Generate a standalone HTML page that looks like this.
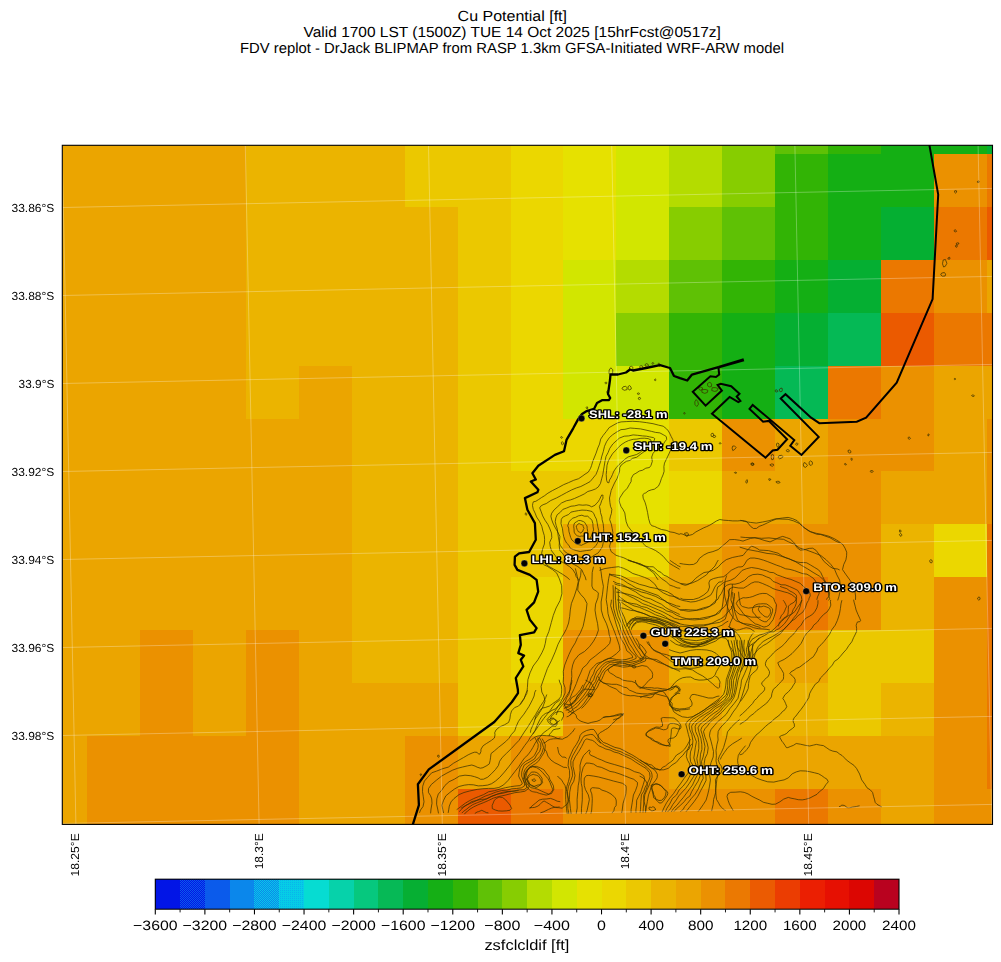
<!DOCTYPE html>
<html><head><meta charset="utf-8"><title>Cu Potential</title>
<style>
html,body{margin:0;padding:0;background:#fff;}
body{width:1001px;height:962px;overflow:hidden;font-family:"Liberation Sans",sans-serif;}
svg{display:block;}
text{font-family:"Liberation Sans",sans-serif;fill:#000;text-rendering:geometricPrecision;}
.t{font-size:14.7px;}
.yl{font-size:11.7px;}
.xl{font-size:11.7px;}
.cb{font-size:13.6px;}
.pl{font-size:11.0px;font-weight:bold;fill:#fff;stroke:#000;stroke-width:2.5px;paint-order:stroke fill;stroke-linejoin:round;}
.coast{fill:none;stroke:#000;stroke-width:2.3;stroke-linejoin:round;stroke-linecap:butt;}
.coast2{fill:none;stroke:#000;stroke-width:2.0;stroke-linejoin:miter;stroke-linecap:butt;}
.ct{fill:none;stroke:#3a3000;stroke-width:0.85;stroke-opacity:0.88;stroke-linejoin:round;}
.gl{fill:none;stroke:#fff;stroke-width:0.8;stroke-opacity:0.36;}
</style></head><body>
<svg width="1001" height="962" viewBox="0 0 1001 962">
<rect width="1001" height="962" fill="#fff"/>

<g opacity="0.996"><text class="t" x="457.6" y="20.9" textLength="109.4" lengthAdjust="spacingAndGlyphs" >Cu Potential [ft]</text>
<text class="t" x="303.6" y="36.8" textLength="417.3" lengthAdjust="spacingAndGlyphs" >Valid 1700 LST (1500Z) TUE 14 Oct 2025 [15hrFcst@0517z]</text>
<text class="t" x="240.0" y="52.7" textLength="544.0" lengthAdjust="spacingAndGlyphs" >FDV replot - DrJack BLIPMAP from RASP 1.3km GFSA-Initiated WRF-ARW model</text></g>
<defs><clipPath id="mc"><rect x="62.3" y="145.3" width="930.2" height="679.0999999999999"/></clipPath></defs>
<g clip-path="url(#mc)">
<g shape-rendering="crispEdges"><rect x="62.00" y="145.00" width="184.00" height="9.00" fill="#EBA500"/>
<rect x="246.00" y="145.00" width="159.00" height="9.00" fill="#EBB400"/>
<rect x="405.00" y="145.00" width="106.00" height="9.00" fill="#EBC800"/>
<rect x="511.00" y="145.00" width="52.00" height="9.00" fill="#EBD700"/>
<rect x="563.00" y="145.00" width="53.00" height="9.00" fill="#E6E100"/>
<rect x="616.00" y="145.00" width="53.00" height="9.00" fill="#D2E600"/>
<rect x="669.00" y="145.00" width="53.00" height="9.00" fill="#B4DC00"/>
<rect x="722.00" y="145.00" width="53.00" height="9.00" fill="#87CD00"/>
<rect x="775.00" y="145.00" width="53.00" height="9.00" fill="#5FC105"/>
<rect x="828.00" y="145.00" width="53.00" height="9.00" fill="#32B405"/>
<rect x="881.00" y="145.00" width="106.00" height="9.00" fill="#14AF14"/>
<rect x="987.00" y="145.00" width="6.00" height="9.00" fill="#05AF32"/>
<rect x="62.00" y="154.00" width="184.00" height="53.00" fill="#EBA500"/>
<rect x="246.00" y="154.00" width="159.00" height="53.00" fill="#EBB400"/>
<rect x="405.00" y="154.00" width="106.00" height="53.00" fill="#EBC800"/>
<rect x="511.00" y="154.00" width="52.00" height="53.00" fill="#EBD700"/>
<rect x="563.00" y="154.00" width="53.00" height="53.00" fill="#E6E100"/>
<rect x="616.00" y="154.00" width="53.00" height="53.00" fill="#D2E600"/>
<rect x="669.00" y="154.00" width="53.00" height="53.00" fill="#B4DC00"/>
<rect x="722.00" y="154.00" width="53.00" height="53.00" fill="#87CD00"/>
<rect x="775.00" y="154.00" width="53.00" height="53.00" fill="#32B405"/>
<rect x="828.00" y="154.00" width="106.00" height="53.00" fill="#14AF14"/>
<rect x="934.00" y="154.00" width="53.00" height="53.00" fill="#EB9100"/>
<rect x="987.00" y="154.00" width="6.00" height="53.00" fill="#EB7800"/>
<rect x="62.00" y="207.00" width="184.00" height="53.00" fill="#EBA500"/>
<rect x="246.00" y="207.00" width="212.00" height="53.00" fill="#EBB400"/>
<rect x="458.00" y="207.00" width="53.00" height="53.00" fill="#EBC800"/>
<rect x="511.00" y="207.00" width="52.00" height="53.00" fill="#EBD700"/>
<rect x="563.00" y="207.00" width="53.00" height="53.00" fill="#E6E100"/>
<rect x="616.00" y="207.00" width="53.00" height="53.00" fill="#D2E600"/>
<rect x="669.00" y="207.00" width="53.00" height="53.00" fill="#87CD00"/>
<rect x="722.00" y="207.00" width="53.00" height="53.00" fill="#5FC105"/>
<rect x="775.00" y="207.00" width="53.00" height="53.00" fill="#32B405"/>
<rect x="828.00" y="207.00" width="53.00" height="53.00" fill="#14AF14"/>
<rect x="881.00" y="207.00" width="53.00" height="53.00" fill="#05AF32"/>
<rect x="934.00" y="207.00" width="53.00" height="53.00" fill="#EB7800"/>
<rect x="987.00" y="207.00" width="6.00" height="53.00" fill="#EB5A00"/>
<rect x="62.00" y="260.00" width="184.00" height="53.00" fill="#EBA500"/>
<rect x="246.00" y="260.00" width="212.00" height="53.00" fill="#EBB400"/>
<rect x="458.00" y="260.00" width="53.00" height="53.00" fill="#EBC800"/>
<rect x="511.00" y="260.00" width="52.00" height="53.00" fill="#EBD700"/>
<rect x="563.00" y="260.00" width="53.00" height="53.00" fill="#D2E600"/>
<rect x="616.00" y="260.00" width="53.00" height="53.00" fill="#B4DC00"/>
<rect x="669.00" y="260.00" width="53.00" height="53.00" fill="#5FC105"/>
<rect x="722.00" y="260.00" width="53.00" height="53.00" fill="#32B405"/>
<rect x="775.00" y="260.00" width="53.00" height="53.00" fill="#14AF14"/>
<rect x="828.00" y="260.00" width="53.00" height="53.00" fill="#05AF32"/>
<rect x="881.00" y="260.00" width="53.00" height="53.00" fill="#EB7800"/>
<rect x="934.00" y="260.00" width="53.00" height="53.00" fill="#EB9100"/>
<rect x="987.00" y="260.00" width="6.00" height="53.00" fill="#EBA500"/>
<rect x="62.00" y="313.00" width="184.00" height="53.00" fill="#EBA500"/>
<rect x="246.00" y="313.00" width="212.00" height="53.00" fill="#EBB400"/>
<rect x="458.00" y="313.00" width="53.00" height="53.00" fill="#EBC800"/>
<rect x="511.00" y="313.00" width="52.00" height="53.00" fill="#EBD700"/>
<rect x="563.00" y="313.00" width="53.00" height="53.00" fill="#D2E600"/>
<rect x="616.00" y="313.00" width="53.00" height="53.00" fill="#87CD00"/>
<rect x="669.00" y="313.00" width="53.00" height="53.00" fill="#32B405"/>
<rect x="722.00" y="313.00" width="53.00" height="53.00" fill="#14AF14"/>
<rect x="775.00" y="313.00" width="53.00" height="53.00" fill="#05AF32"/>
<rect x="828.00" y="313.00" width="53.00" height="53.00" fill="#05B955"/>
<rect x="881.00" y="313.00" width="53.00" height="53.00" fill="#EB5A00"/>
<rect x="934.00" y="313.00" width="59.00" height="53.00" fill="#EB7800"/>
<rect x="62.00" y="366.00" width="184.00" height="53.00" fill="#EBA500"/>
<rect x="246.00" y="366.00" width="53.00" height="53.00" fill="#EBB400"/>
<rect x="299.00" y="366.00" width="53.00" height="53.00" fill="#EBA500"/>
<rect x="352.00" y="366.00" width="106.00" height="53.00" fill="#EBB400"/>
<rect x="458.00" y="366.00" width="53.00" height="53.00" fill="#EBC800"/>
<rect x="511.00" y="366.00" width="52.00" height="53.00" fill="#EBD700"/>
<rect x="563.00" y="366.00" width="106.00" height="53.00" fill="#D2E600"/>
<rect x="669.00" y="366.00" width="53.00" height="53.00" fill="#32B405"/>
<rect x="722.00" y="366.00" width="53.00" height="53.00" fill="#14AF14"/>
<rect x="775.00" y="366.00" width="53.00" height="53.00" fill="#05B955"/>
<rect x="828.00" y="366.00" width="53.00" height="53.00" fill="#EB7800"/>
<rect x="881.00" y="366.00" width="53.00" height="53.00" fill="#EB9100"/>
<rect x="934.00" y="366.00" width="59.00" height="53.00" fill="#EBA500"/>
<rect x="62.00" y="419.00" width="290.00" height="52.00" fill="#EBA500"/>
<rect x="352.00" y="419.00" width="106.00" height="52.00" fill="#EBB400"/>
<rect x="458.00" y="419.00" width="53.00" height="52.00" fill="#EBC800"/>
<rect x="511.00" y="419.00" width="105.00" height="52.00" fill="#EBD700"/>
<rect x="616.00" y="419.00" width="53.00" height="52.00" fill="#E6E100"/>
<rect x="669.00" y="419.00" width="53.00" height="52.00" fill="#EBC800"/>
<rect x="722.00" y="419.00" width="53.00" height="52.00" fill="#EB9100"/>
<rect x="775.00" y="419.00" width="53.00" height="52.00" fill="#EBA500"/>
<rect x="828.00" y="419.00" width="106.00" height="52.00" fill="#EB9100"/>
<rect x="934.00" y="419.00" width="53.00" height="52.00" fill="#EBA500"/>
<rect x="987.00" y="419.00" width="6.00" height="52.00" fill="#EB9100"/>
<rect x="62.00" y="471.00" width="290.00" height="53.00" fill="#EBA500"/>
<rect x="352.00" y="471.00" width="106.00" height="53.00" fill="#EBB400"/>
<rect x="458.00" y="471.00" width="158.00" height="53.00" fill="#EBC800"/>
<rect x="616.00" y="471.00" width="53.00" height="53.00" fill="#E6E100"/>
<rect x="669.00" y="471.00" width="53.00" height="53.00" fill="#EBD700"/>
<rect x="722.00" y="471.00" width="106.00" height="53.00" fill="#EBA500"/>
<rect x="828.00" y="471.00" width="53.00" height="53.00" fill="#EB9100"/>
<rect x="881.00" y="471.00" width="106.00" height="53.00" fill="#EBA500"/>
<rect x="987.00" y="471.00" width="6.00" height="53.00" fill="#EB9100"/>
<rect x="62.00" y="524.00" width="290.00" height="53.00" fill="#EBA500"/>
<rect x="352.00" y="524.00" width="106.00" height="53.00" fill="#EBB400"/>
<rect x="458.00" y="524.00" width="105.00" height="53.00" fill="#EBC800"/>
<rect x="563.00" y="524.00" width="53.00" height="53.00" fill="#EBA500"/>
<rect x="616.00" y="524.00" width="53.00" height="53.00" fill="#EBD700"/>
<rect x="669.00" y="524.00" width="53.00" height="53.00" fill="#EBA500"/>
<rect x="722.00" y="524.00" width="159.00" height="53.00" fill="#EB9100"/>
<rect x="881.00" y="524.00" width="53.00" height="53.00" fill="#EBB400"/>
<rect x="934.00" y="524.00" width="53.00" height="53.00" fill="#EBD700"/>
<rect x="987.00" y="524.00" width="6.00" height="53.00" fill="#EB7800"/>
<rect x="62.00" y="577.00" width="290.00" height="53.00" fill="#EBA500"/>
<rect x="352.00" y="577.00" width="106.00" height="53.00" fill="#EBB400"/>
<rect x="458.00" y="577.00" width="53.00" height="53.00" fill="#EBC800"/>
<rect x="511.00" y="577.00" width="52.00" height="53.00" fill="#EBD700"/>
<rect x="563.00" y="577.00" width="53.00" height="53.00" fill="#EBA500"/>
<rect x="616.00" y="577.00" width="53.00" height="53.00" fill="#EBB400"/>
<rect x="669.00" y="577.00" width="53.00" height="53.00" fill="#EBA500"/>
<rect x="722.00" y="577.00" width="53.00" height="53.00" fill="#EB9100"/>
<rect x="775.00" y="577.00" width="53.00" height="53.00" fill="#EB7800"/>
<rect x="828.00" y="577.00" width="53.00" height="53.00" fill="#EB9100"/>
<rect x="881.00" y="577.00" width="53.00" height="53.00" fill="#EBB400"/>
<rect x="934.00" y="577.00" width="53.00" height="53.00" fill="#EB9100"/>
<rect x="987.00" y="577.00" width="6.00" height="53.00" fill="#EB7800"/>
<rect x="62.00" y="630.00" width="78.00" height="53.00" fill="#EBA500"/>
<rect x="140.00" y="630.00" width="53.00" height="53.00" fill="#EB9100"/>
<rect x="193.00" y="630.00" width="53.00" height="53.00" fill="#EBA500"/>
<rect x="246.00" y="630.00" width="53.00" height="53.00" fill="#EB9100"/>
<rect x="299.00" y="630.00" width="53.00" height="53.00" fill="#EBA500"/>
<rect x="352.00" y="630.00" width="106.00" height="53.00" fill="#EBB400"/>
<rect x="458.00" y="630.00" width="53.00" height="53.00" fill="#EBC800"/>
<rect x="511.00" y="630.00" width="52.00" height="53.00" fill="#EBD700"/>
<rect x="563.00" y="630.00" width="106.00" height="53.00" fill="#EB9100"/>
<rect x="669.00" y="630.00" width="106.00" height="53.00" fill="#EBB400"/>
<rect x="775.00" y="630.00" width="53.00" height="53.00" fill="#EBA500"/>
<rect x="828.00" y="630.00" width="106.00" height="53.00" fill="#EBC800"/>
<rect x="934.00" y="630.00" width="53.00" height="53.00" fill="#EB9100"/>
<rect x="987.00" y="630.00" width="6.00" height="53.00" fill="#EB7800"/>
<rect x="62.00" y="683.00" width="78.00" height="53.00" fill="#EBA500"/>
<rect x="140.00" y="683.00" width="53.00" height="53.00" fill="#EB9100"/>
<rect x="193.00" y="683.00" width="53.00" height="53.00" fill="#EBA500"/>
<rect x="246.00" y="683.00" width="53.00" height="53.00" fill="#EB9100"/>
<rect x="299.00" y="683.00" width="159.00" height="53.00" fill="#EBA500"/>
<rect x="458.00" y="683.00" width="105.00" height="53.00" fill="#EBC800"/>
<rect x="563.00" y="683.00" width="106.00" height="53.00" fill="#EB9100"/>
<rect x="669.00" y="683.00" width="53.00" height="53.00" fill="#EBA500"/>
<rect x="722.00" y="683.00" width="106.00" height="53.00" fill="#EBB400"/>
<rect x="828.00" y="683.00" width="53.00" height="53.00" fill="#EBC800"/>
<rect x="881.00" y="683.00" width="53.00" height="53.00" fill="#EBB400"/>
<rect x="934.00" y="683.00" width="53.00" height="53.00" fill="#EB9100"/>
<rect x="987.00" y="683.00" width="6.00" height="53.00" fill="#EB7800"/>
<rect x="62.00" y="736.00" width="25.00" height="53.00" fill="#EBA500"/>
<rect x="87.00" y="736.00" width="212.00" height="53.00" fill="#EB9100"/>
<rect x="299.00" y="736.00" width="106.00" height="53.00" fill="#EBA500"/>
<rect x="405.00" y="736.00" width="53.00" height="53.00" fill="#EB9100"/>
<rect x="458.00" y="736.00" width="53.00" height="53.00" fill="#EBA500"/>
<rect x="511.00" y="736.00" width="158.00" height="53.00" fill="#EB9100"/>
<rect x="669.00" y="736.00" width="265.00" height="53.00" fill="#EBA500"/>
<rect x="934.00" y="736.00" width="53.00" height="53.00" fill="#EB9100"/>
<rect x="987.00" y="736.00" width="6.00" height="53.00" fill="#EB7800"/>
<rect x="62.00" y="789.00" width="25.00" height="36.00" fill="#EBA500"/>
<rect x="87.00" y="789.00" width="212.00" height="36.00" fill="#EB9100"/>
<rect x="299.00" y="789.00" width="106.00" height="36.00" fill="#EBA500"/>
<rect x="405.00" y="789.00" width="53.00" height="36.00" fill="#EB9100"/>
<rect x="458.00" y="789.00" width="53.00" height="36.00" fill="#EB5A00"/>
<rect x="511.00" y="789.00" width="52.00" height="36.00" fill="#EB7800"/>
<rect x="563.00" y="789.00" width="212.00" height="36.00" fill="#EB9100"/>
<rect x="775.00" y="789.00" width="53.00" height="36.00" fill="#EB7800"/>
<rect x="828.00" y="789.00" width="53.00" height="36.00" fill="#EB9100"/>
<rect x="881.00" y="789.00" width="53.00" height="36.00" fill="#EBA500"/>
<rect x="934.00" y="789.00" width="59.00" height="36.00" fill="#EB9100"/></g>
<defs><clipPath id="cc"><polygon points="62,145 993,145 993,805.5 62,824.1"/></clipPath></defs><g clip-path="url(#cc)"><path class="ct" d="M569.7,579.7 L567.0,577.3 L562.6,574.3 L557.8,571.4 L553.7,569.1 L549.6,566.8 L546.5,565.0 L543.8,561.0 L542.5,557.7 L541.7,553.0 L542.8,548.3 L544.4,544.0 L544.6,539.4 L544.3,535.6 L542.9,531.0 L541.8,526.3 L539.5,521.4 L536.6,517.0 L535.1,513.1 L533.3,509.4 L532.5,505.7 L532.8,503.4 L533.4,501.8 L535.8,501.3 L538.5,499.6 L541.6,497.5 L544.3,495.9 L547.9,493.2 L552.4,490.6 L558.3,487.6 L563.6,484.7 L568.6,482.6 L573.7,480.3 L578.6,478.7 L582.1,476.3 L585.0,474.2 L588.3,472.1 L590.5,468.4 L591.6,465.4 L592.7,461.5 L594.5,457.0 L596.1,453.1 L597.8,448.0 L599.5,444.1 L600.7,439.1 L603.2,435.4 L606.3,431.5 L609.2,427.6 L613.0,425.4 L617.5,422.9 L621.1,421.9 L626.2,421.6 L632.8,421.3 L639.3,421.7 L646.3,422.6 L653.0,423.7 L658.4,425.1 L663.2,426.2 L666.5,428.8 L668.4,431.0 L669.6,433.2 L671.2,436.5 L672.7,439.4 L673.6,442.9 L672.9,446.2 L670.9,449.6 L669.3,453.1 L667.5,456.9 L666.3,459.4 L664.5,463.1 L663.9,466.6 L664.1,471.4 L663.0,474.9 L661.4,478.6 L660.0,482.9 L658.4,486.2 L654.4,489.2 L651.2,489.9 L648.1,491.0 L645.8,492.9 L644.3,493.4 L642.8,494.7 L643.2,498.2 L645.0,502.2 L646.2,506.2 L647.6,512.6 L648.6,518.6 L650.0,523.4 L651.7,525.7 L654.7,526.5 L657.6,527.9 L661.5,529.5 L666.2,530.3 L670.1,531.9 L674.1,532.5 L677.1,533.6 L679.7,534.5 M578.3,580.4 L578.3,579.3 L577.7,578.5 L576.1,576.5 L575.3,573.6 L572.9,569.7 L569.6,566.7 L566.1,564.4 L562.5,562.2 L558.2,560.2 L555.1,555.4 L551.5,550.7 L550.3,546.7 L549.7,542.3 L551.8,537.7 L551.5,533.1 L549.6,528.1 L547.8,524.3 L545.0,520.2 L542.7,515.9 L541.0,511.2 L539.7,507.9 L540.7,506.2 L543.1,504.7 L546.2,503.6 L550.8,500.5 L556.4,498.0 L561.5,495.3 L566.6,492.5 L571.7,489.9 L576.5,487.9 L580.8,486.5 L585.5,484.1 L590.1,481.6 L593.0,478.1 L596.0,474.4 L597.8,470.0 L599.3,465.4 L600.7,461.2 L601.6,456.9 L603.3,451.5 L604.5,446.3 L606.5,441.8 L609.3,437.7 L612.7,434.7 L616.7,432.0 L621.0,429.6 L625.0,429.3 L630.1,428.0 L634.8,428.4 L640.6,428.9 L646.0,430.1 L651.6,431.4 L655.5,432.4 L659.9,432.9 L663.2,434.7 L664.8,435.6 L666.3,436.6 L666.7,439.4 L664.7,441.9 L663.1,444.8 L659.6,447.4 L656.2,449.8 L653.1,453.2 L651.7,457.0 L652.3,461.4 L651.0,465.4 L649.5,467.5 L645.8,468.2 L642.6,470.2 L639.4,471.0 L635.9,473.3 L633.4,474.6 L631.3,478.3 L631.1,481.6 L629.4,484.4 L627.3,488.2 L623.5,492.1 L621.6,495.1 L619.7,498.0 L619.2,500.7 L619.7,503.0 L621.1,506.7 L622.8,509.1 L624.8,512.9 L625.4,517.1 L626.2,521.8 L627.9,526.2 L630.7,529.8 L633.3,532.9 L636.3,535.9 L639.3,539.4 L643.0,543.4 L646.1,546.4 L651.1,548.4 L655.7,550.6 L659.7,553.4 L663.2,556.3 L666.6,560.3 L669.5,563.4 L673.7,565.9 L677.2,567.9 L679.6,569.3 M586.1,580.2 L585.2,576.9 L583.5,573.7 L581.9,569.9 L577.9,566.6 L573.7,564.3 L569.6,561.3 L565.8,558.3 L562.9,553.9 L559.7,550.2 L559.2,545.3 L559.5,540.8 L559.9,536.4 L557.7,531.9 L554.9,527.1 L552.9,523.0 L551.5,519.1 L550.9,516.1 L551.7,513.2 L554.2,509.8 L557.8,506.5 L561.5,503.0 L566.3,500.8 L570.6,499.9 L574.4,498.5 L579.8,496.1 L584.2,494.0 L587.8,491.5 L592.0,490.3 L595.6,488.9 L598.3,486.9 L600.5,483.4 L601.7,478.7 L602.8,474.7 L603.4,470.9 L604.2,466.2 L604.9,461.8 L606.0,456.5 L608.0,452.7 L609.8,448.3 L612.8,444.0 L616.3,440.8 L619.4,438.1 L624.2,436.2 L628.8,435.9 L633.1,434.9 L637.7,435.3 L642.6,435.9 L646.5,436.2 L649.7,436.9 L653.4,437.6 L654.8,438.6 L653.8,441.3 L652.4,444.7 L649.9,447.2 L646.8,450.1 L643.2,452.3 L640.1,454.6 L636.8,457.2 L632.5,458.3 L630.1,460.4 L626.6,461.2 L623.5,463.3 L621.2,465.0 L619.7,467.8 L619.6,470.9 L618.4,474.9 L616.9,478.8 L614.5,483.0 L613.1,486.1 L611.2,490.4 L610.4,494.1 L609.5,498.0 L609.9,502.5 L610.5,506.3 L611.8,509.4 L611.4,513.4 L610.5,516.1 L609.7,519.7 L611.3,524.1 L612.2,528.5 L612.9,532.6 L611.9,538.1 L610.5,542.9 L609.6,546.2 L610.2,548.9 L611.2,551.7 L613.5,553.4 L616.0,555.3 L619.7,556.5 L623.3,557.6 L627.5,559.6 L632.1,561.4 L636.2,562.6 L641.5,564.6 L645.6,567.0 L649.5,569.9 L653.7,573.0 L656.2,577.0 L658.1,579.9 M607.5,482.5 L606.6,480.3 L606.2,474.6 L606.6,470.4 L607.0,465.3 L608.3,461.0 L610.5,457.0 L612.8,453.3 L616.0,450.2 L619.2,446.5 L622.0,444.2 L625.3,442.1 L628.5,440.6 L633.2,439.3 L636.8,439.1 L640.9,438.3 L644.3,438.2 L648.2,438.6 L651.0,440.0 L650.8,441.3 L648.3,444.9 L646.8,447.4 L643.7,449.3 L640.0,452.5 L636.7,454.5 L633.0,455.5 L628.1,456.9 L624.8,459.3 L622.1,461.8 L619.0,464.6 L616.4,467.5 L613.9,471.1 L612.4,474.7 L611.3,477.2 L609.5,480.0 L608.9,482.8 Z M576.2,526.0 L577.1,525.4 L577.9,524.1 L579.1,523.5 L580.1,524.1 L582.2,524.9 L583.3,525.6 L583.2,526.6 L584.1,528.6 L583.3,529.3 L582.9,531.2 L581.7,531.9 L580.9,533.2 L579.3,532.0 L578.2,531.6 L577.6,530.3 L577.1,529.5 L576.5,527.5 Z M573.7,526.3 L574.1,524.1 L574.7,522.9 L576.3,521.9 L578.6,520.5 L580.8,520.6 L583.4,521.6 L584.6,522.3 L586.1,524.8 L587.0,526.0 L587.2,528.6 L587.7,531.5 L586.8,533.6 L585.6,534.5 L583.1,536.2 L581.8,536.0 L579.7,536.4 L577.3,535.8 L575.4,534.3 L574.2,532.2 L574.0,528.8 Z M568.7,522.8 L569.2,521.4 L571.4,519.4 L572.8,518.1 L575.6,517.3 L578.3,515.9 L581.9,515.2 L584.4,516.2 L587.7,516.2 L589.4,517.7 L591.9,520.2 L592.9,523.7 L593.0,526.2 L593.6,529.9 L592.3,533.5 L591.3,536.2 L589.7,539.3 L589.0,541.5 L587.0,542.6 L583.7,544.2 L581.4,545.3 L578.1,544.5 L575.6,543.7 L573.8,541.6 L571.9,540.0 L570.7,537.5 L569.7,534.2 L568.9,531.3 L568.7,528.1 L567.7,525.9 Z M561.3,519.4 L562.6,517.3 L565.3,515.9 L568.6,514.5 L571.0,512.1 L574.2,511.4 L578.4,510.6 L582.0,510.1 L586.5,510.3 L590.1,511.0 L592.2,511.6 L593.9,513.8 L594.9,516.3 L596.4,519.1 L597.1,522.5 L597.8,526.8 L598.7,530.6 L598.6,536.1 L598.2,539.5 L597.4,543.2 L595.9,545.5 L593.2,548.4 L590.6,550.1 L586.3,550.6 L582.8,551.1 L580.2,551.5 L576.7,550.7 L573.6,549.7 L570.4,548.3 L568.9,545.3 L566.7,543.2 L564.9,540.0 L563.7,536.5 L563.0,533.2 L562.4,528.3 L561.0,523.6 Z M555.9,517.8 L557.2,514.7 L560.4,512.2 L562.8,509.4 L566.7,508.0 L571.0,506.2 L574.5,505.9 L578.9,504.8 L582.8,505.2 L586.3,504.9 L589.0,505.4 L591.6,506.8 L593.0,506.2 L595.2,505.1 L596.1,503.9 L598.1,501.8 L599.6,499.4 L601.2,496.0 L601.8,494.9 L603.1,495.4 L602.9,496.4 L603.0,498.2 L601.8,500.3 L600.7,503.8 L599.4,506.5 L600.3,510.1 L600.5,512.6 L601.9,516.9 L602.1,519.7 L603.2,523.8 L603.6,528.2 L603.8,532.7 L603.9,538.1 L603.1,543.4 L602.4,546.6 L600.2,550.2 L598.2,552.9 L594.4,555.1 L590.9,557.5 L586.1,558.1 L582.8,557.6 L579.0,557.0 L575.0,556.4 L571.4,555.0 L567.8,553.6 L564.8,551.6 L562.5,548.4 L560.1,545.2 L559.1,541.1 L558.5,537.9 L557.8,533.4 L557.4,529.4 L556.2,525.7 L555.2,521.7 Z M543.3,564.5 L547.2,566.3 L552.5,569.6 L556.6,572.9 L559.4,578.9 L561.7,585.7 L561.9,593.8 L560.0,600.6 L556.1,608.0 L553.3,615.3 L551.3,622.5 L548.9,631.4 L546.2,638.0 L545.3,643.3 L544.1,647.9 L541.9,652.8 L537.9,659.8 L533.2,666.0 L530.0,672.9 L527.9,679.7 L527.4,687.5 L526.8,693.5 L524.1,698.3 L521.5,702.0 L520.1,704.6 M575.3,568.4 L576.2,571.8 L577.3,576.6 L578.3,581.5 L576.9,588.0 L574.4,595.9 L571.4,603.5 L570.3,609.9 L569.7,616.5 L568.6,623.0 L566.5,628.8 L564.3,633.0 L561.4,637.7 L558.0,644.3 L555.2,651.9 L551.6,660.2 L547.4,668.5 L544.1,677.7 L541.1,686.3 L541.8,692.0 L544.1,696.6 L545.0,701.1 L542.4,708.0 L537.7,715.5 L534.7,719.6 M581.1,570.1 L580.6,575.7 L578.5,582.8 L577.7,590.1 L580.6,594.3 L584.3,598.3 L587.0,603.5 L586.2,610.9 L584.7,618.9 L583.1,626.3 L580.4,632.8 L577.4,637.9 L575.3,642.8 L571.6,648.8 L569.0,654.4 L566.9,659.5 L564.7,665.1 L563.3,671.3 L563.5,676.6 L563.2,682.4 L565.0,687.7 L565.1,693.0 L563.2,697.3 L560.9,701.6 L558.1,706.6 L554.5,711.7 L550.0,716.2 L546.7,719.9 M593.5,566.7 L592.2,572.5 L592.0,579.9 L591.9,586.1 L593.2,589.2 L596.6,591.2 L598.4,593.1 L597.9,597.8 L595.6,604.1 L595.0,610.1 L596.1,616.9 L597.6,623.7 L598.4,630.2 L596.4,636.0 L593.6,641.1 L589.6,646.6 L584.5,651.5 L578.9,654.8 L574.5,660.2 L572.7,664.9 L571.6,670.5 L571.8,676.6 L571.2,681.4 L570.2,685.6 L569.8,690.0 L569.0,694.1 L566.6,697.8 L565.3,701.8 L561.4,705.9 L557.9,710.7 L556.1,715.0 M600.0,567.0 L601.0,571.5 L601.9,578.6 L603.4,586.3 L602.5,594.2 L601.1,602.0 L601.3,610.1 L603.2,616.9 L606.5,623.8 L608.5,630.0 L609.2,634.7 L610.6,639.2 L609.7,643.4 L606.0,647.4 L600.6,651.7 L595.2,656.1 L590.0,660.0 L586.9,664.5 L582.7,668.1 L580.6,673.1 L578.3,678.0 L576.4,683.4 L574.1,688.8 L571.9,693.3 L570.1,698.0 L567.1,701.8 L564.8,704.7 L563.8,706.6 M609.9,573.2 L608.7,578.4 L607.7,585.5 L606.9,592.8 L606.2,599.7 L607.4,606.6 L608.0,613.6 L609.8,620.0 L612.6,627.0 L615.1,633.3 L617.1,639.0 L619.2,645.2 L620.0,650.1 L616.4,653.7 L611.9,657.0 L606.1,659.8 L602.2,661.7 L596.8,663.5 L593.4,666.8 L590.1,670.6 L588.2,676.2 L586.6,681.1 L584.2,685.2 L582.7,689.5 L579.5,693.5 L576.8,697.1 L574.8,701.7 L571.8,704.6 L568.6,706.9 L565.9,707.8 L564.5,708.4 M613.0,585.2 L613.3,591.0 L613.3,599.6 L613.6,608.3 L615.8,616.4 L619.1,624.1 L621.5,631.8 L624.1,638.1 L627.3,645.0 L630.0,650.0 L633.2,653.7 L635.9,656.0 L636.2,658.3 L633.1,659.8 L628.6,661.3 L623.2,661.5 L618.5,661.4 L614.1,660.5 L610.0,661.1 L605.8,662.2 L603.1,664.2 L599.8,667.8 L596.9,671.1 L594.9,675.7 L593.6,679.8 L590.7,683.7 L589.2,687.6 L586.5,691.5 L583.3,696.1 L578.7,701.5 L574.6,705.2 L571.2,707.9 L567.6,709.9 L565.6,710.1 M615.4,586.5 L615.1,592.1 L615.6,600.4 L616.3,608.0 L618.2,616.1 L621.6,623.6 L623.7,631.0 L626.6,636.9 L629.2,643.4 L632.6,648.3 L634.8,652.1 L636.9,655.5 L638.8,657.4 L640.8,658.9 L641.5,658.9 L640.6,659.4 L636.9,661.0 L630.9,662.3 L624.7,663.2 L619.8,662.8 L614.8,662.5 L610.9,662.0 L607.4,663.5 L604.5,665.8 L602.0,668.3 L599.8,672.6 L596.9,677.0 L595.6,681.4 L592.8,685.3 L591.2,688.2 L588.0,693.2 L585.2,697.2 L580.7,702.0 L577.1,706.6 L573.7,708.7 L570.9,711.3 L567.9,712.6 M618.2,590.2 L618.3,595.2 L618.4,602.2 L618.7,609.3 L621.0,616.3 L623.6,623.6 L626.5,629.6 L629.0,635.6 L632.1,641.2 L634.7,646.1 L637.3,650.3 L639.7,653.6 L640.9,656.0 L643.0,657.4 L644.2,658.8 L643.0,659.7 L639.3,661.3 L632.6,663.9 L626.0,665.2 L621.6,665.4 L616.5,664.7 L612.5,664.1 L609.6,664.8 L606.7,667.3 L603.8,670.1 L601.5,673.4 L599.5,678.2 L597.0,682.2 L595.2,686.2 L593.5,689.7 L591.0,693.8 L587.4,698.4 L583.6,704.0 L580.0,708.0 L575.9,710.6 L572.3,713.2 L570.0,715.0 M619.3,601.8 L620.5,603.9 L620.2,607.1 L621.3,611.2 L624.2,617.0 L626.4,623.3 L629.3,629.1 L631.8,635.1 L634.8,640.9 L637.4,645.4 L639.8,649.1 L642.0,651.2 L643.1,653.5 L645.3,656.7 L646.2,658.4 L645.4,660.9 L640.8,662.7 L634.0,665.2 L627.9,666.7 L623.1,667.2 L617.7,666.0 L613.5,665.4 L611.0,667.0 L608.5,668.8 L605.2,671.3 L603.4,675.5 L601.7,679.4 L599.1,683.3 L597.4,687.2 L594.9,690.6 L592.4,695.2 L588.7,700.4 L584.5,705.6 L581.5,708.4 M611.4,599.7 L611.3,601.7 L610.6,605.6 L612.0,610.3 L613.9,616.2 L616.4,624.9 L618.9,632.8 L621.5,639.7 L624.9,645.1 L626.8,650.8 L630.4,653.5 L632.4,656.0 L632.8,657.7 L630.6,658.1 L626.0,659.5 L621.4,660.0 L616.7,659.6 L612.3,658.6 L608.3,658.4 L604.2,660.2 L601.3,662.4 L597.9,664.9 L594.9,669.4 L593.5,673.7 L591.0,677.9 L589.6,682.0 L587.2,685.2 L584.5,689.8 L580.8,694.4 L576.9,699.7 L573.2,703.2 L568.8,705.5 L565.8,707.2 L563.9,708.4 M627.7,560.3 L633.4,562.0 L640.2,563.8 L646.8,567.0 L651.0,569.7 L654.3,571.6 L658.1,575.3 L661.7,578.7 L666.3,581.8 L669.8,585.1 L673.6,586.4 L677.1,587.9 L680.3,588.2 M599.4,570.3 L605.0,568.5 L611.7,567.5 L618.5,566.7 L623.3,568.2 L627.8,570.4 L632.8,573.5 L638.5,575.3 L644.3,577.3 L649.4,579.5 L654.8,584.1 L658.1,589.3 L663.3,592.9 L669.1,595.6 L675.5,596.8 L679.5,598.7 M610.2,575.0 L613.3,575.9 L618.5,577.8 L623.6,580.2 L627.7,583.1 L631.5,585.2 L636.1,588.0 L641.4,589.6 L647.7,591.8 L653.0,593.7 L658.1,595.5 L662.1,598.8 L666.0,602.0 L671.1,603.7 L676.6,605.9 L680.2,606.5 M613.1,581.3 L617.1,583.3 L621.2,584.1 L626.2,586.5 L631.2,589.6 L635.4,591.7 L640.0,595.1 L645.3,597.7 L650.5,598.9 L656.6,602.0 L661.4,604.2 L665.7,607.6 L669.3,609.7 L673.5,611.6 L677.4,613.4 L679.7,614.5 M615.0,587.8 L618.4,589.6 L622.6,592.8 L627.8,595.4 L633.3,598.0 L637.7,600.5 L642.7,603.7 L648.5,605.7 L653.1,607.6 L658.4,609.9 L662.9,611.9 L667.0,614.1 L671.6,616.6 L674.5,618.4 L677.7,619.0 L679.7,619.6 M618.5,595.6 L620.7,597.7 L625.0,600.9 L629.4,603.7 L634.0,605.9 L639.7,607.4 L644.7,609.7 L649.8,611.8 L655.5,614.8 L661.9,617.0 L667.7,619.0 L675.5,621.6 L680.2,623.8 M621.1,601.9 L624.1,604.3 L628.1,606.8 L633.4,609.9 L637.0,611.7 L642.1,613.0 L646.5,614.5 L651.4,616.8 L657.6,617.8 L662.6,619.5 L669.4,622.2 L675.4,624.4 L680.1,626.7 M626.8,626.6 L626.9,624.5 L628.5,622.6 L630.0,620.3 L631.7,619.1 L633.7,618.4 L636.4,616.9 L641.6,617.3 L647.5,617.5 L652.7,618.9 L658.7,619.5 L664.5,621.6 L669.2,623.2 L673.9,624.9 L677.2,626.9 L680.3,628.2 M628.8,628.4 L629.6,626.8 L630.5,624.7 L632.7,622.4 L633.4,621.0 L634.8,619.4 L637.7,618.9 L641.4,618.7 L647.1,619.8 L652.6,619.8 L659.0,621.2 L664.1,623.3 L669.8,624.9 L674.2,626.2 L677.9,628.5 L679.5,629.1 M631.1,629.9 L631.8,627.9 L633.3,625.7 L634.9,624.6 L635.2,622.9 L636.6,621.4 L638.7,621.5 L642.3,620.8 L648.0,621.2 L653.0,622.3 L659.0,623.0 L664.3,624.7 L669.6,627.0 L674.3,628.7 L677.9,630.3 L679.6,631.2 M670.1,560.4 L671.3,561.3 L674.2,563.3 L676.4,564.6 L677.9,565.9 L678.7,566.0 L680.5,566.9 M646.8,641.6 L648.2,644.2 L650.5,646.5 L653.2,649.6 L657.2,651.5 L661.7,653.7 L666.5,654.6 L671.4,656.6 L676.9,658.3 L679.8,659.9 M636.0,638.3 L638.5,642.4 L640.1,648.2 L643.1,652.8 L645.5,655.6 L648.9,657.8 L652.8,659.5 L657.9,662.1 L664.7,664.5 L669.8,666.6 L673.7,668.6 L677.5,670.3 L680.1,671.4 M608.0,669.5 L610.5,667.3 L615.1,664.7 L619.3,663.0 L624.5,663.3 L628.7,665.2 L632.9,666.9 L637.6,666.7 L642.1,665.5 L646.8,666.4 L649.2,668.5 L652.0,671.9 L652.7,674.5 L652.3,677.9 L648.8,680.4 L646.3,683.3 L644.2,685.7 L642.2,687.3 L640.0,688.3 L638.5,687.1 L637.1,685.2 L635.2,682.7 L631.7,681.4 L627.4,681.0 L623.1,680.2 L619.6,678.1 L616.3,676.9 L613.2,674.6 L610.4,673.1 L608.6,671.4 Z M598.1,676.5 L599.0,678.2 L601.0,681.3 L603.2,683.0 L606.8,683.7 L611.6,684.3 L616.5,684.3 L620.5,685.5 L623.6,687.1 L626.9,687.8 L629.5,690.2 L632.1,691.2 L636.5,693.1 L642.0,693.8 L647.6,694.0 L653.1,693.1 L658.0,692.1 L662.2,691.1 L666.2,690.2 L670.3,688.3 L673.2,686.8 L676.2,686.5 L678.2,688.0 L679.7,689.8 L679.9,691.5 M588.7,693.9 L588.8,693.9 L589.4,693.0 L591.0,693.4 L591.4,693.0 L592.6,694.2 L592.8,695.2 L592.5,695.4 L591.0,696.0 L590.5,696.7 L589.4,696.4 L588.9,696.6 L588.0,696.5 L588.1,695.0 L587.8,695.0 Z M632.2,666.6 L632.4,665.7 L634.0,665.6 L634.6,665.1 L635.0,665.9 L635.3,666.6 L635.8,667.6 L635.5,667.6 L634.4,667.9 L634.4,668.0 L633.0,667.7 L632.7,667.5 Z M680.1,693.4 L677.6,693.3 L675.6,694.7 L673.2,696.2 L671.0,698.1 L669.6,701.1 L669.8,702.9 L670.7,705.3 L672.2,708.2 L674.8,710.1 L676.6,710.8 L678.4,710.6 L680.4,711.7 M603.0,717.6 L606.1,716.5 L609.5,716.6 L613.1,716.0 L616.7,714.6 L621.0,713.7 L622.9,714.2 L623.1,715.2 L621.4,716.2 L619.7,717.7 L618.0,718.7 L615.0,719.2 L613.2,719.9 M549.8,719.6 L550.3,718.9 L551.6,716.2 L553.0,714.5 L555.1,712.7 L558.0,711.7 L559.6,711.6 L561.2,711.7 L563.2,712.8 L563.5,715.0 L563.6,716.2 L562.2,718.8 L561.5,720.5 M679.7,533.7 L682.0,533.9 L684.9,535.1 L688.5,535.5 L692.4,534.5 L695.9,531.9 L700.1,529.7 L703.8,527.8 L706.7,526.6 L709.7,525.2 L713.0,523.2 L716.4,521.0 L719.8,519.5 L723.8,520.2 L728.5,520.5 L732.8,520.9 L737.8,520.9 L742.4,520.5 L746.3,521.3 L748.7,524.0 L750.7,526.5 L753.6,528.5 L756.5,528.4 L759.1,526.4 L762.7,525.1 L767.4,522.9 L771.6,520.9 L776.7,518.9 L782.4,518.0 L788.1,517.4 L792.7,518.7 L797.2,520.7 L799.5,523.2 L802.7,526.3 L806.1,529.0 L809.1,531.2 L813.2,532.9 L817.0,534.3 L820.7,534.5 L824.6,535.9 L829.9,537.7 L836.2,541.4 L839.8,542.8 M685.0,534.2 L684.5,533.2 L685.2,533.1 L686.0,533.0 L687.3,532.6 L688.1,533.7 L688.6,534.9 L687.8,534.9 L687.8,535.9 L687.1,536.4 L686.1,536.1 L685.2,534.9 Z M679.6,563.4 L683.5,564.1 L689.1,564.7 L693.6,564.4 L696.9,562.5 L699.5,558.3 L703.8,555.0 L708.1,552.8 L712.9,551.6 L718.2,549.6 L722.1,546.2 L726.2,542.8 L729.6,539.7 L734.3,539.5 L739.3,540.2 L743.0,541.1 L746.7,539.7 L750.6,538.4 L754.9,537.7 L759.3,538.8 L764.9,540.6 L770.1,541.9 L774.1,540.0 L778.9,537.6 L782.7,536.4 L786.5,537.6 L790.1,538.9 L792.9,541.5 L795.2,544.1 L796.7,547.3 L800.2,550.1 L803.5,549.9 L809.2,548.4 L812.7,548.2 L816.1,550.4 L818.8,554.1 L821.8,558.4 L824.2,561.7 L826.9,563.9 L829.4,566.2 L832.9,568.4 L837.6,569.0 L839.7,570.0 M680.3,583.6 L681.7,584.3 L685.3,585.3 L688.1,584.5 L692.2,582.0 L695.7,578.3 L699.8,575.2 L704.0,572.5 L708.8,571.8 L713.6,570.1 L718.0,567.2 L721.9,563.0 L726.2,559.7 L732.3,557.5 L738.3,556.3 L743.1,555.4 L746.2,551.5 L749.0,548.3 L751.7,546.1 L754.4,547.2 L757.0,548.4 L759.6,550.1 L763.9,550.3 L768.4,550.6 L773.3,551.9 L778.1,553.2 L782.1,556.0 L786.5,558.1 L789.7,559.2 L793.0,560.6 L796.9,561.9 L800.1,562.5 L803.4,562.5 L806.7,562.8 L810.5,565.0 L814.3,567.3 L818.5,569.8 L820.8,572.6 L822.6,576.5 L824.2,579.5 L827.0,584.2 L828.3,589.2 L829.6,593.2 L829.0,596.1 L827.6,598.2 L826.0,599.5 M680.4,598.2 L683.0,599.3 L688.0,599.5 L693.3,599.5 L698.7,597.9 L703.9,594.9 L707.9,591.5 L709.5,587.1 L708.9,582.8 L709.9,580.2 L713.6,578.5 L718.8,577.3 L723.7,576.7 L727.0,574.2 L731.2,570.3 L735.3,568.3 L738.2,567.0 L741.0,566.9 L742.9,566.4 L744.8,564.0 L746.9,560.3 L750.1,558.1 L754.2,558.0 L758.9,558.8 L763.6,560.2 L767.3,561.5 L771.9,563.3 L776.6,565.2 L780.5,566.5 L785.6,568.8 L790.0,569.4 L794.4,570.6 L798.9,572.3 L802.7,573.6 L806.9,574.2 L809.8,575.9 L813.4,578.3 L815.5,581.1 L818.0,586.1 L819.4,589.9 L819.0,593.8 L817.5,596.9 L816.8,599.8 M680.2,610.1 L684.7,609.5 L690.2,609.9 L696.6,610.1 L703.5,607.8 L709.7,606.4 L715.1,603.0 L716.5,598.6 L716.6,593.9 L717.0,589.9 L717.8,586.9 L720.2,585.4 L723.3,582.7 L726.4,581.4 L730.8,580.2 L734.8,578.0 L738.1,574.9 L742.1,570.4 L746.5,568.7 L751.5,567.5 L758.1,568.5 L762.9,569.9 L766.6,570.8 L769.8,572.3 L773.6,572.7 L777.4,575.0 L782.3,576.7 L786.6,578.3 L790.9,579.4 L795.9,581.5 L800.2,583.3 L803.5,586.5 L807.6,589.9 L809.9,593.0 L810.3,595.8 L809.1,598.0 L808.7,600.3 M680.0,619.6 L684.9,619.2 L692.4,618.6 L699.5,618.5 L707.2,617.0 L714.6,615.5 L719.6,612.7 L722.1,608.0 L723.0,602.1 L723.7,596.3 L724.4,591.9 L724.3,587.5 L726.7,585.3 L730.1,584.1 L735.0,584.2 L739.4,583.1 L744.7,580.3 L748.5,576.6 L752.8,574.6 L757.9,574.2 L762.2,574.9 L766.6,576.9 L770.1,578.2 L773.2,581.5 L776.6,582.7 L781.1,584.8 L785.3,584.9 L789.5,586.5 L794.0,588.5 L797.6,590.3 L799.6,593.4 L801.3,596.1 L801.8,599.4 L801.0,603.0 L800.0,607.0 L798.5,610.8 L796.5,614.5 L793.4,618.3 L790.4,622.8 L786.9,626.0 L783.4,629.7 L779.9,631.8 L776.1,634.4 L772.3,636.6 L767.5,639.0 L763.2,641.5 L760.4,644.1 L758.3,646.5 L756.7,649.4 L755.2,653.6 L754.2,657.1 L753.5,660.5 M680.0,626.2 L686.1,626.5 L694.4,625.1 L703.3,624.9 L711.6,623.7 L719.6,622.4 L725.2,619.3 L727.0,613.5 L727.5,606.4 L728.3,599.5 L728.9,594.7 L728.2,590.5 L730.1,588.6 L733.2,587.1 L738.7,588.0 L743.7,588.1 L747.3,585.9 L751.3,583.2 L754.7,581.9 L758.4,582.0 L762.3,583.4 L766.4,585.2 L769.4,586.5 L773.0,588.6 L776.9,589.9 L780.1,590.7 L784.2,591.9 L787.8,592.8 L791.8,594.7 L794.3,596.7 L796.1,598.2 L796.4,601.0 L796.3,603.2 L795.0,606.8 L793.2,609.5 L791.8,613.4 L789.4,616.6 L787.3,619.9 L784.4,623.8 L781.2,626.8 L778.7,628.8 L776.6,629.7 L773.5,631.9 L768.7,632.0 L763.8,633.8 L759.3,635.1 L755.6,637.2 L752.0,639.4 L750.0,642.6 L748.5,648.0 L748.5,653.1 L748.7,655.9 M736.3,603.4 L737.8,600.5 L740.2,599.1 L743.1,597.7 L745.8,597.9 L749.5,597.4 L752.8,596.5 L756.1,595.1 L759.5,593.9 L762.8,593.4 L766.7,593.6 L770.2,595.8 L773.6,598.0 L774.7,601.5 L776.5,604.7 L776.2,607.8 L775.7,611.6 L774.3,616.2 L773.0,619.8 L771.1,622.2 L769.1,625.1 L766.5,626.5 L764.0,627.1 L761.4,626.1 L758.1,624.6 L755.3,623.9 L752.4,621.5 L749.8,619.4 L748.0,617.3 L745.5,616.0 L743.0,613.2 L740.4,609.6 L737.5,605.8 Z M752.7,608.4 L754.0,605.9 L755.9,604.8 L758.3,604.0 L760.7,603.9 L763.3,603.7 L766.8,604.0 L769.0,605.6 L770.7,607.0 L772.6,608.8 L772.6,611.2 L771.7,614.1 L770.8,616.2 L769.7,618.6 L767.9,620.4 L766.3,621.8 L764.4,621.7 L762.0,620.8 L759.6,619.4 L758.4,618.4 L756.3,616.7 L755.2,614.5 L753.2,612.9 L752.4,610.3 Z M758.5,608.5 L759.5,606.6 L761.0,606.9 L763.5,606.1 L764.8,606.4 L766.9,607.1 L769.3,608.1 L770.0,608.9 L770.5,611.2 L770.8,612.2 L769.9,614.4 L769.0,615.8 L767.5,617.1 L765.8,616.9 L763.9,616.0 L762.2,614.3 L760.2,612.7 L758.4,609.8 Z M780.0,586.3 L782.3,587.3 L786.7,588.6 L789.9,591.0 L792.2,592.1 L795.2,594.0 L796.3,595.2 L796.6,597.4 L796.2,599.3 L794.7,601.6 L793.0,602.9 L789.9,604.6 L788.5,606.1 L788.3,609.3 L788.2,612.3 L787.9,614.3 L786.5,616.5 L783.7,618.1 L781.9,620.0 L779.5,622.2 L778.8,624.6 L778.5,626.3 M783.1,600.2 L784.2,601.5 L785.7,604.3 L786.6,606.7 L785.7,608.2 L784.7,610.9 L783.4,613.4 L781.5,615.3 L780.2,618.3 L779.4,619.3 M680.3,638.1 L683.9,639.1 L690.7,640.1 L696.2,640.7 L702.2,639.7 L708.5,638.3 L713.6,636.0 L718.0,635.0 L722.1,634.2 L726.3,632.8 L729.8,633.0 L733.2,634.1 L734.9,635.5 L735.4,637.9 L736.4,641.6 L736.9,644.5 L737.7,647.7 L739.9,651.5 L741.5,654.7 L743.0,656.9 L744.4,658.5 L745.3,660.1 M679.6,644.5 L683.6,645.5 L688.7,646.6 L693.1,647.5 L696.7,646.5 L700.4,644.7 L703.2,643.5 L706.5,642.2 L709.4,640.6 L713.4,639.3 L717.6,638.2 L721.6,637.5 L725.3,638.1 L727.4,640.0 L728.7,643.3 L729.7,646.1 L732.0,649.4 L733.8,653.1 L734.5,655.9 L736.5,658.6 L737.3,659.4 L738.0,660.4 M728.4,626.1 L729.6,627.8 L732.1,629.8 L734.7,631.1 L736.8,633.1 L738.5,635.1 L740.3,637.9 L741.4,641.3 L742.3,646.2 L743.1,649.2 L744.8,653.7 L746.6,657.4 L747.8,660.0 M753.4,633.0 L751.9,634.7 L750.1,637.7 L748.6,641.9 L747.7,645.2 L746.4,649.2 L746.8,653.0 L747.6,655.5 L748.2,658.7 L749.1,660.0 M759.4,637.7 L757.7,640.0 L755.7,641.7 L753.6,644.2 L752.0,648.4 L751.0,652.0 L750.8,654.2 L750.6,656.9 L750.9,659.0 L751.2,660.3 M731.4,606.0 L732.2,608.6 L733.0,613.0 L733.3,616.4 L731.6,620.0 L730.0,623.7 L729.5,626.5 L731.1,628.1 L733.9,628.9 L736.2,630.2 L739.5,629.7 L743.6,628.4 L746.2,627.7 L750.1,628.5 L752.7,630.4 L754.5,631.4 M734.5,593.2 L734.5,596.5 L733.7,601.4 L733.8,606.1 L734.7,611.6 L736.3,616.3 L737.7,620.2 L740.5,622.4 L743.4,623.6 L746.3,625.0 L749.8,626.1 L753.7,627.7 L758.2,628.7 L762.9,629.0 L766.9,629.4 L769.9,630.0 M728.1,639.6 L729.1,645.3 L731.7,652.1 L732.0,660.2 L730.8,666.7 L728.3,673.7 L726.3,679.5 L725.8,685.1 L725.2,689.2 L723.7,694.2 L720.4,697.8 L715.0,701.8 L709.6,705.7 L704.3,710.0 L699.3,713.1 L693.9,715.9 L690.5,718.8 L687.7,720.9 L685.7,724.0 L687.0,728.9 L688.4,734.5 L689.8,739.6 L689.4,745.5 L687.2,750.5 L686.3,756.3 L687.6,760.3 L689.7,764.0 L690.0,767.8 L688.0,773.3 L684.2,778.3 L680.4,783.9 L677.0,788.3 L673.6,793.5 L669.7,798.2 L666.6,802.7 L663.9,807.9 L662.0,812.2 M734.1,640.2 L734.6,645.5 L736.0,652.8 L736.3,660.3 L734.3,666.4 L732.1,673.9 L729.7,680.1 L729.7,686.0 L728.8,691.0 L727.4,695.6 L724.5,700.2 L719.1,704.2 L713.8,707.6 L708.9,711.8 L704.3,714.6 L699.5,717.7 L696.6,720.4 L693.7,723.0 L691.6,726.1 L692.2,731.0 L694.3,736.0 L696.4,741.8 L695.3,747.7 L694.6,753.1 L693.8,757.9 L695.2,762.6 L696.5,766.8 L696.3,771.5 L693.5,776.7 L689.4,783.2 L685.9,788.2 L682.3,792.0 L678.7,796.0 L676.3,799.9 L672.7,804.7 L670.4,808.9 L667.5,812.0 M739.8,640.5 L740.0,645.3 L740.5,652.5 L739.9,660.2 L738.6,666.7 L735.8,674.0 L733.5,680.3 L733.2,686.0 L732.5,691.9 L731.3,697.2 L727.5,701.2 L722.4,705.6 L718.4,710.3 L713.3,713.6 L709.7,716.4 L705.8,720.2 L702.7,722.2 L699.8,724.5 L698.0,727.8 L699.1,732.8 L700.9,738.4 L701.8,744.4 L701.9,749.4 L700.5,754.2 L700.0,760.2 L700.4,765.1 L700.1,770.6 L700.3,775.5 L698.1,781.1 L694.7,786.5 L691.7,791.7 L689.8,796.1 L686.5,798.5 L684.4,801.5 L680.2,805.5 L676.2,809.0 L673.9,811.7 M744.4,639.8 L743.8,645.6 L744.3,652.9 L744.0,660.3 L742.1,666.4 L740.2,673.4 L738.0,680.1 L737.0,686.0 L735.6,692.7 L733.9,697.7 L730.6,702.8 L726.5,707.2 L722.2,712.0 L717.6,716.3 L713.2,719.3 L709.5,723.0 L707.4,726.0 L704.9,728.8 L703.5,731.7 L705.0,737.2 L707.0,742.5 L708.2,747.8 L707.4,753.5 L705.0,758.4 L704.2,763.7 L704.2,769.6 L705.8,774.6 L706.1,780.3 L703.8,785.0 L700.8,790.4 L697.9,796.2 L694.0,801.8 L689.1,807.8 L685.7,812.2 M748.2,640.3 L748.1,645.4 L749.4,652.6 L749.3,660.4 L747.3,667.0 L744.5,673.8 L741.5,680.2 L740.8,686.3 L739.5,691.7 L738.0,698.3 L734.3,703.3 L729.9,708.6 L726.1,714.4 L721.9,718.2 L717.5,721.8 L714.3,725.7 L711.2,729.3 L710.0,732.0 L709.5,735.8 L711.0,741.1 L712.4,746.7 L713.5,751.6 L713.2,757.0 L711.1,762.5 L709.6,768.2 L709.5,774.2 L710.4,780.1 L709.5,786.1 L708.6,790.9 L707.6,795.0 L706.1,800.1 L703.4,804.3 L700.2,808.9 L697.7,812.2 M752.4,644.3 L752.6,649.0 L752.8,656.1 L751.9,663.6 L750.3,670.9 L748.3,677.4 L745.7,683.6 L743.9,690.0 L741.9,696.5 L739.9,701.9 L736.6,707.5 L733.1,712.1 L730.0,717.1 L726.8,721.1 L723.1,724.7 L720.1,728.1 L718.2,731.4 L717.8,735.9 L718.1,740.0 L716.9,744.8 L716.0,750.5 L716.4,755.7 L716.0,760.9 L717.3,766.9 L718.2,771.8 L717.2,777.0 L716.4,783.1 L715.9,788.3 L715.7,792.4 L714.6,796.3 L713.6,799.4 L713.2,804.3 L712.2,808.5 L711.4,812.2 M731.1,640.4 L732.5,645.1 L733.7,652.5 L734.2,660.3 L732.1,666.3 L729.7,673.8 L727.8,679.5 L727.7,685.7 L727.3,689.9 L726.3,695.0 L721.7,699.1 L717.2,703.6 L711.9,707.1 L706.5,710.2 L701.9,713.7 L696.5,717.0 L692.9,719.1 L690.4,721.8 L689.1,725.1 L689.6,729.2 L691.9,734.8 L692.9,740.8 L692.4,746.6 L690.5,751.9 L690.1,756.9 L690.6,761.7 L692.8,765.0 L692.7,770.4 L690.3,775.0 L687.1,781.0 L683.1,786.1 L679.1,790.0 L676.6,794.9 L672.5,798.4 L669.6,804.1 L666.7,808.6 L665.4,812.0 M737.3,639.8 L737.1,644.7 L738.3,652.2 L738.4,660.2 L736.0,667.1 L733.6,673.6 L731.5,680.2 L731.6,686.2 L730.4,691.6 L729.4,696.7 L725.6,701.0 L720.9,705.4 L715.5,708.5 L711.4,712.3 L706.8,715.3 L703.2,718.4 L699.8,721.7 L696.5,723.4 L695.1,726.6 L695.5,731.3 L698.1,737.3 L698.8,742.5 L698.8,748.6 L698.0,753.2 L696.8,758.7 L697.7,763.6 L698.3,769.3 L698.2,773.4 L695.3,778.9 L692.5,785.0 L689.0,789.8 L685.9,794.0 L683.1,797.8 L680.2,801.1 L677.0,805.2 L673.5,808.5 L671.1,812.2 M741.8,640.4 L741.8,645.6 L742.3,652.8 L741.7,659.8 L740.1,666.6 L737.5,673.4 L736.4,680.1 L735.3,686.3 L734.4,692.4 L732.6,697.1 L728.6,702.2 L723.9,706.5 L720.3,711.3 L715.5,715.0 L711.8,718.7 L708.2,721.6 L704.4,724.5 L702.1,726.8 L700.8,729.9 L702.2,734.3 L703.7,740.4 L705.0,746.3 L704.2,751.6 L703.1,757.0 L701.5,761.6 L702.1,767.6 L702.6,772.3 L703.2,778.4 L700.7,783.2 L698.3,788.9 L695.2,794.1 L691.3,798.5 L687.5,803.4 L684.7,806.6 L683.2,809.4 L681.2,811.0 L680.1,812.0 M739.7,719.5 L736.1,722.4 L731.6,726.8 L727.5,731.9 L726.5,737.3 L724.9,743.0 L723.6,747.5 L721.5,752.2 L719.4,756.1 L718.2,759.5 L719.3,763.2 L721.3,766.1 L722.2,769.6 L720.8,773.3 L718.0,775.9 L715.4,779.6 L715.7,784.6 L715.6,790.8 L716.1,795.5 L716.5,799.4 L718.6,802.9 L720.1,805.9 L722.3,807.9 L725.2,810.8 L727.5,812.3 M741.8,738.1 L737.7,740.7 L732.4,743.9 L727.9,747.5 L724.3,752.5 L721.6,756.6 L720.2,759.6 M745.6,745.6 L743.3,748.3 L740.3,752.0 L738.3,755.4 L737.6,760.2 L737.9,763.6 L739.8,767.5 L743.0,771.1 L746.8,773.1 L751.9,775.5 L756.7,778.2 L762.0,780.1 L767.7,781.8 L773.8,782.1 L778.4,781.0 L784.1,779.9 L788.4,777.8 L792.2,773.8 L796.3,771.9 L800.2,770.8 L805.6,771.0 L809.4,771.6 L814.6,772.8 L818.6,773.8 L821.8,775.7 L824.5,777.7 L826.9,779.1 L828.3,781.8 L825.9,784.6 L823.3,788.7 L819.3,791.8 L817.0,794.3 L813.1,796.3 L809.9,798.0 L805.6,799.3 L802.2,799.9 L798.2,799.7 L794.8,798.9 L791.0,798.2 L788.3,797.4 L783.7,799.1 L779.9,801.8 L775.6,804.1 L772.0,804.3 L767.8,803.3 L763.4,802.3 L759.6,800.0 L755.9,798.3 L751.9,796.3 L748.0,793.9 L744.2,792.4 L740.4,791.8 L735.1,792.2 L730.7,792.3 L727.8,794.0 L727.0,796.5 L728.2,800.7 L729.4,803.9 L731.0,806.9 L732.9,810.0 L733.5,811.6 M639.6,658.4 L643.8,657.9 L650.1,658.9 L656.4,659.5 L660.9,662.1 L666.4,665.5 L671.9,668.4 L678.6,669.1 L685.9,668.7 L692.4,669.9 L697.3,673.2 L702.8,676.0 L707.7,679.7 L712.5,683.7 L715.3,686.4 L718.3,688.3 L719.6,687.0 L719.6,684.2 L720.1,682.0 L719.2,680.1 L717.6,677.2 L715.5,676.4 M640.1,687.6 L643.2,688.3 L647.1,689.2 L652.0,690.1 L656.2,690.5 L661.7,690.3 L666.1,690.2 L669.3,688.6 L673.4,687.1 L676.1,685.6 L678.6,686.8 L679.5,688.0 L680.4,689.7 L677.9,692.8 L675.0,694.9 L672.2,697.8 L670.6,701.1 L669.2,703.4 L669.7,705.7 L671.9,707.2 L675.9,708.5 L679.5,709.0 L684.8,708.6 L688.8,707.7 L691.9,705.6 L692.1,703.0 L690.9,700.2 L689.8,698.4 L690.7,696.4 L691.8,694.7 L694.2,694.4 L697.6,695.2 L702.8,696.5 L708.3,698.0 L712.9,698.0 L717.0,696.4 L719.4,696.0 M640.2,697.7 L643.8,696.0 L649.9,694.9 L655.5,693.7 L660.9,695.2 L666.6,696.6 L669.6,700.4 L672.1,703.4 L672.1,708.2 L673.8,711.8 L677.8,714.6 L682.3,716.8 L687.6,717.5 L693.3,716.6 L698.3,713.6 L704.2,709.8 L709.8,706.1 L716.2,702.7 L719.5,699.6 M646.2,733.8 L648.4,731.3 L652.4,729.6 L655.6,728.0 L659.2,728.5 L663.4,729.8 L665.7,729.5 L667.7,728.3 L668.1,725.3 L670.1,723.5 L673.5,723.4 L677.2,724.3 L680.0,726.1 L679.3,729.1 L677.8,732.5 L676.1,736.1 L673.3,738.0 L669.7,738.5 L668.1,739.7 L668.0,741.8 L670.1,744.7 L670.2,746.4 L667.7,745.7 L663.4,745.2 L659.5,744.0 L656.7,742.3 L654.4,741.1 L652.4,740.3 L649.2,737.7 L646.4,736.0 Z M640.0,759.7 L643.3,762.2 L647.8,765.0 L651.6,767.8 L656.0,769.1 L660.1,769.9 L663.8,769.8 L668.3,768.3 L672.0,765.0 L676.4,762.3 L679.7,758.2 L682.9,755.3 L685.7,751.4 L689.0,749.2 L690.2,745.9 L692.1,743.7 M639.6,776.1 L642.8,777.7 L645.5,780.5 L647.6,784.3 L646.9,787.2 L645.6,791.0 L643.6,795.4 L644.0,801.5 L645.6,807.2 L645.7,812.1 M651.9,787.7 L652.9,785.4 L656.0,783.7 L657.7,784.1 L661.3,786.0 L664.1,789.2 L666.1,791.6 L665.6,795.1 L664.3,797.5 L661.7,800.3 L659.0,800.5 L656.2,799.2 L653.7,797.8 L653.1,794.5 L652.2,790.9 Z M639.7,644.2 L641.8,645.7 L644.6,649.2 L646.4,652.1 L644.2,655.8 L642.1,659.7 L640.5,661.8 M670.3,640.3 L672.1,641.6 L675.7,644.1 L679.8,645.6 L684.7,647.1 L690.6,646.8 L696.3,646.2 L700.4,644.6 L705.3,642.3 L708.2,640.3 M740.3,520.3 L744.3,521.4 L750.3,522.4 L756.3,523.1 L762.6,522.0 L769.1,520.7 L775.5,518.8 L782.0,519.1 L788.1,519.3 L793.6,520.9 L799.6,523.6 L804.6,528.1 L810.6,531.7 L816.3,533.3 L822.9,534.6 L829.0,536.3 L834.7,538.9 L838.7,541.4 L842.9,544.6 L845.0,548.1 L846.7,552.2 L846.6,555.8 L845.9,559.9 L843.7,564.6 L842.5,569.6 L845.6,574.1 L850.1,580.3 L853.5,585.4 L854.9,591.3 L855.6,596.0 L855.5,599.9 M740.5,537.0 L745.2,537.5 L753.1,537.7 L761.6,538.3 L769.0,537.9 L776.5,538.8 L783.5,539.3 L788.6,541.9 L794.2,544.3 L799.8,548.1 L806.5,550.0 L814.5,553.0 L820.8,555.5 L826.3,559.9 L830.7,564.3 L834.6,569.4 L836.9,574.9 L839.6,580.1 L840.3,585.1 L840.2,591.0 L838.9,596.6 L837.7,600.4 M739.7,547.1 L747.2,549.4 L757.8,551.4 L767.0,553.4 L774.8,554.2 L782.0,556.5 L788.6,558.5 L795.0,561.4 L801.5,565.4 L807.5,568.8 L813.1,572.4 L819.5,576.2 L823.5,579.8 L826.6,585.1 L828.3,591.9 L828.9,596.3 L829.7,598.8 L829.2,599.7 L828.4,600.3 M839.1,806.6 L840.5,806.3 L841.6,805.1 L844.2,805.4 L845.1,805.9 L847.1,807.6 L848.9,808.1 L852.3,807.1 L856.3,806.5 L859.6,805.8 M853.6,599.7 L854.1,602.2 L855.2,606.2 L856.1,610.0 L857.9,614.3 L859.7,618.2 L860.6,620.5 L859.8,621.7 L857.5,621.9 L856.6,623.8 L856.2,625.4 L856.6,628.3 L856.6,631.5 L854.9,635.1 L853.6,637.6 L851.8,641.8 L848.8,645.6 L846.4,649.4 L843.1,653.0 L840.4,656.3 L837.8,659.2 L834.4,661.4 L832.4,665.0 L829.3,668.3 L826.3,672.0 L823.7,674.8 L820.5,677.9 L818.6,681.8 L815.3,684.1 L813.5,686.9 L811.4,690.2 L809.7,693.5 L808.8,697.6 L806.5,701.3 L803.8,705.6 L801.1,709.3 L798.1,713.0 L795.9,716.1 L794.3,717.5 L793.1,720.1 L793.3,722.2 L794.3,723.9 L794.4,726.7 L792.4,728.5 L789.1,730.8 L786.8,733.3 L784.3,734.7 L781.4,735.6 L779.5,736.8 L780.2,738.1 L781.9,741.2 L783.1,742.6 L785.0,745.4 L786.4,747.6 L787.8,747.6 L790.2,746.6 L793.5,745.3 L796.2,743.5 L800.4,744.2 L805.7,745.4 L809.7,746.0 L813.4,745.1 L816.4,744.4 L820.3,745.2 L823.4,745.6 L826.2,747.5 L829.7,749.9 L832.8,751.1 L836.9,751.9 L839.7,754.1 L842.2,755.6 L844.4,757.8 L846.3,759.9 L850.2,762.8 L853.9,765.3 L856.6,768.5 L859.6,774.0 L861.7,779.9 L865.0,784.5 L867.0,787.8 L870.3,789.9 L872.6,792.5 L873.5,796.2 L874.6,799.9 L875.2,802.4 L877.0,804.3 L880.1,806.1 L881.8,806.9 M841.9,600.2 L841.0,603.8 L840.4,608.6 L839.5,613.7 L838.5,617.0 L837.3,620.6 L835.2,625.2 L831.9,629.6 L829.5,634.4 L826.6,638.2 L824.0,641.5 L821.0,644.8 L817.9,647.8 L816.8,651.1 L815.2,653.7 L813.4,656.7 L810.3,658.9 L808.0,660.9 L805.0,663.0 L801.9,665.4 L799.6,667.1 L796.5,668.3 L794.1,670.1 L791.1,671.8 L789.8,673.6 L791.0,674.8 L793.7,677.1 L795.1,679.4 L795.1,682.5 L793.6,684.8 L791.7,688.0 L788.5,691.7 L784.9,694.8 L782.8,698.5 L784.3,700.6 L785.7,703.7 L786.8,706.7 L785.0,709.7 L782.3,711.7 L780.2,714.4 L777.0,717.0 L774.4,718.8 L772.0,721.4 L768.6,723.8 L765.3,726.6 L762.0,729.8 L759.1,732.6 L756.0,735.1 L753.7,738.0 L750.6,742.3 L749.1,746.4 L746.9,749.4 L744.2,752.4 L742.2,754.1 L739.7,754.9 M830.7,599.9 L830.4,601.7 L830.8,605.1 L829.6,608.2 L827.2,611.8 L823.5,614.6 L820.2,618.2 L817.3,622.2 L813.7,625.2 L812.0,628.2 L809.2,630.9 L806.5,633.5 L804.5,636.4 L802.9,639.9 L801.1,643.4 L798.1,647.0 L795.3,650.1 L792.0,653.6 L788.1,656.7 L784.2,659.4 L780.2,661.3 L777.8,662.7 L779.1,666.0 L781.5,669.5 L783.6,673.3 L783.6,676.5 L783.4,679.0 L781.8,681.0 L778.7,684.1 L776.4,686.7 L773.3,689.3 L771.9,693.5 L771.4,696.9 L769.5,699.5 L766.8,703.0 L763.1,705.8 L759.7,708.5 L756.6,710.7 L753.8,713.6 L750.2,716.0 L746.6,720.0 L742.2,722.8 L739.8,724.4 M818.0,600.2 L817.9,603.7 L816.9,607.8 L815.0,611.3 L812.7,614.2 L809.3,616.4 L806.3,617.9 L803.4,621.0 L801.1,625.1 L797.9,628.3 L795.5,631.7 L792.6,635.1 L789.4,637.8 L787.0,640.9 L784.6,643.7 L781.9,646.3 L778.4,648.8 L775.9,650.7 L773.5,652.9 L770.2,656.7 L766.7,659.9 L765.4,663.3 L765.6,665.7 L768.0,668.8 L769.5,671.7 L769.4,673.7 L768.2,676.6 L766.4,677.8 L764.6,679.7 L763.1,681.6 L761.6,682.8 L762.1,684.8 L764.7,687.6 L764.6,689.9 L762.5,692.5 L759.5,694.9 L756.9,698.3 L754.4,700.5 L752.6,703.5 L750.1,706.0 L746.9,709.5 L742.4,713.7 L739.7,716.0 M808.4,600.5 L806.9,603.0 L805.5,607.4 L803.1,611.8 L800.6,613.8 L797.4,616.2 L795.4,618.7 L791.8,620.9 L789.5,623.3 L786.7,626.6 L783.7,629.7 L780.4,633.8 L776.6,636.2 L773.2,638.7 L770.0,641.3 L766.7,643.7 L763.2,645.6 L761.2,647.2 L758.1,649.4 L755.5,652.8 L752.7,655.6 L751.5,658.4 L753.2,661.4 L756.6,663.1 L757.9,666.8 L756.8,669.8 L752.5,673.4 L750.2,676.1 L749.1,680.4 L748.6,683.6 L748.2,688.5 L746.2,692.8 L742.8,698.2 L740.4,701.5 M802.0,600.1 L800.4,603.3 L797.3,607.7 L794.9,611.5 L791.7,614.1 L788.4,615.7 L784.7,618.3 L781.6,621.4 L778.4,624.8 L775.0,628.1 L771.9,630.9 L768.6,632.9 L764.7,635.4 L761.5,637.0 L757.8,639.3 L755.2,641.9 L752.2,644.0 L749.5,646.0 L748.2,648.0 L748.4,650.6 L749.8,652.1 L749.7,655.2 L749.0,658.3 L747.0,661.9 L744.8,664.4 L743.0,667.1 L741.8,669.9 L740.2,672.0 M419.5,812.8 L420.5,810.0 L423.0,806.6 L424.0,801.8 L423.3,796.8 L422.5,791.6 L422.7,786.3 L424.4,781.1 L427.7,777.3 L431.7,772.8 L436.6,771.1 L442.7,768.7 L448.3,767.1 L453.4,763.3 L459.2,760.0 L463.6,757.5 L468.2,754.8 L472.1,753.0 L474.6,752.2 L477.1,752.3 L478.6,754.1 L479.8,754.1 L480.9,751.7 L481.0,749.1 L483.2,745.7 L486.3,743.6 L491.4,740.4 L494.4,738.0 L495.0,734.8 L494.7,732.8 L496.0,730.0 L499.3,727.1 L504.5,724.8 L508.6,722.4 L509.9,718.8 L510.4,714.7 L511.6,710.9 L514.6,707.6 L518.6,706.0 L521.3,703.1 L524.1,698.9 L525.9,693.4 L527.6,690.1 M430.6,813.4 L431.0,809.1 L432.0,803.3 L431.7,798.9 L430.6,795.8 L428.4,792.3 L428.5,788.6 L431.3,784.5 L436.3,780.3 L441.6,776.1 L446.9,773.1 L452.7,770.1 L457.6,768.3 L462.6,767.0 L467.4,765.9 L471.8,765.0 L475.1,766.1 L477.2,767.2 L480.4,768.2 L482.9,767.7 L486.9,765.6 L489.3,763.9 L490.1,760.6 L490.6,757.2 L491.0,753.6 L494.4,750.9 L498.3,747.5 L502.0,744.6 L505.7,741.6 L508.9,738.4 L511.4,734.5 L514.7,730.9 L516.3,726.2 L518.3,721.7 L520.6,718.3 L523.9,714.2 L526.4,710.4 L528.8,706.7 L530.8,703.0 L532.7,699.2 L534.1,696.0 L534.8,692.2 L536.0,690.0 M438.5,813.4 L437.7,809.0 L436.6,804.2 L436.8,798.9 L438.3,794.1 L441.7,790.2 L444.9,785.5 L449.1,781.7 L454.4,779.2 L459.4,776.1 L465.0,775.2 L470.7,775.7 L474.6,776.7 L478.1,777.9 L480.6,779.3 L483.5,779.2 L487.7,777.2 L491.5,773.7 L495.5,769.5 L498.4,765.5 L499.6,761.3 L502.1,757.6 L506.6,753.2 L511.3,748.6 L515.4,744.1 L519.0,740.4 L522.0,735.6 L524.3,732.0 L527.5,727.4 L530.4,722.7 L532.9,718.7 L535.7,714.4 L537.8,710.6 L540.4,706.2 L543.5,701.5 L545.7,697.5 L546.8,694.5 M443.6,813.0 L442.8,809.7 L441.9,805.2 L443.4,800.7 L445.8,795.9 L449.8,792.5 L454.5,789.0 L458.9,786.5 L464.2,785.2 L468.7,784.6 L473.3,784.8 L478.3,785.9 L482.7,785.7 L487.6,785.1 L491.6,783.7 L495.6,781.0 L499.8,777.3 L504.4,772.1 L508.7,766.8 L512.3,762.0 L515.5,757.9 L518.6,754.2 L521.7,749.9 L524.7,745.5 L528.3,740.8 L530.3,737.2 L533.3,733.3 L535.6,730.3 L538.4,725.9 L540.8,722.7 L543.6,718.7 L547.1,714.3 L550.4,710.2 L553.0,706.4 L555.8,702.7 L558.7,701.1 L560.0,699.3 M448.2,812.9 L448.7,809.8 L449.3,806.1 L451.0,801.9 L454.0,798.5 L459.0,794.6 L464.0,792.5 L469.6,791.0 L477.1,789.4 L482.9,788.7 L488.6,788.4 L494.1,788.4 L498.9,787.5 L503.6,784.9 L508.2,780.3 L511.6,775.8 L515.2,771.2 L518.6,766.9 L522.0,761.6 L524.3,758.2 L528.0,754.8 L531.0,750.6 L532.9,747.4 L535.2,743.1 L537.4,739.8 L540.6,736.2 L543.2,733.0 L547.5,729.9 L551.8,726.5 L556.5,722.9 L559.8,720.4 M537.8,737.5 L538.5,740.8 L540.7,743.4 L540.8,747.7 L539.7,751.3 L536.6,755.1 L534.5,759.0 L530.8,761.2 L527.7,763.0 L524.2,765.1 L522.7,768.7 L521.7,772.2 L521.7,776.1 L523.0,779.7 L524.6,783.6 L524.3,786.1 L521.3,787.9 L516.5,788.5 L511.8,788.8 L506.7,790.1 L501.3,790.6 L495.9,792.1 L490.9,794.1 L485.0,796.2 L480.4,798.5 L475.4,801.2 L470.8,803.2 L466.9,804.7 L463.4,807.4 L461.4,809.5 L459.1,811.7 M534.8,737.6 L536.3,740.3 L538.2,744.3 L538.0,747.6 L536.9,750.6 L534.5,755.2 L531.7,758.0 L528.9,759.7 L525.5,761.5 L522.1,764.5 L520.0,767.9 L519.1,772.4 L518.6,776.0 L520.0,779.0 L521.7,781.9 L522.3,783.9 L519.9,785.6 L514.9,786.1 L510.6,786.7 L505.5,787.7 L500.2,789.0 L494.4,790.7 L488.5,791.8 L483.6,794.6 L478.5,796.6 L473.7,798.6 L469.3,800.8 L465.6,803.0 L461.8,805.8 L458.5,808.4 L456.7,809.6 M539.5,738.0 L541.1,740.7 L542.5,744.0 L543.5,747.6 L542.2,752.2 L539.9,756.5 L536.4,760.0 L533.6,761.9 L530.4,764.3 L527.4,766.5 L524.9,769.8 L523.9,772.5 L524.0,776.0 L525.1,780.6 L526.6,784.7 L526.7,787.8 L524.0,789.7 L518.4,790.0 L514.0,790.9 L508.3,791.8 L503.1,793.2 L497.7,794.1 L492.1,796.1 L486.3,798.8 L482.0,800.9 L477.3,802.7 L472.8,804.6 L469.0,807.2 L466.1,809.6 L463.6,811.3 L461.8,813.1 M542.1,738.6 L543.7,741.5 L545.3,744.8 L545.1,748.0 L544.2,752.2 L541.6,756.4 L538.7,760.9 L535.6,763.6 L532.1,765.7 L529.3,767.5 L527.6,770.1 L526.6,773.6 L525.8,777.5 L527.1,780.7 L529.3,785.3 L528.4,788.6 L525.0,791.2 L520.5,792.0 L514.8,792.7 L510.4,793.8 L505.0,795.2 L498.7,796.5 L493.2,798.2 L488.5,800.5 L483.2,802.8 L478.0,804.8 L473.8,806.8 L470.0,809.1 L467.6,811.1 L465.5,812.7 L464.4,814.2 M527.9,776.1 L529.8,774.0 L531.4,772.1 L534.5,772.0 L536.7,772.5 L539.3,774.5 L540.6,776.3 L542.1,778.3 L542.1,780.9 L542.6,782.5 L540.9,784.6 L537.9,785.0 L535.9,785.7 L534.0,786.5 L531.2,785.8 L529.6,784.0 L528.8,781.7 L527.2,778.9 Z M531.9,779.8 L532.6,779.8 L533.2,779.2 L534.2,778.8 L534.3,778.9 L535.2,779.6 L535.7,780.3 L535.1,781.0 L535.1,781.2 L533.8,781.3 L532.9,780.9 L532.6,780.9 Z M524.9,773.6 L526.7,770.2 L529.4,767.4 L532.6,766.5 L536.5,766.4 L540.4,767.9 L543.9,769.8 L546.1,772.9 L548.8,776.2 L549.9,779.6 L552.2,783.4 L553.4,785.8 L553.8,789.3 L552.5,791.8 L551.4,793.6 L548.4,794.0 L545.2,792.7 L541.6,791.1 L537.3,789.1 L534.3,788.3 L531.0,787.7 L528.4,785.4 L525.9,782.2 L524.9,777.7 Z M460.9,808.3 L463.7,806.5 L467.8,804.5 L471.4,801.7 L476.8,800.3 L481.6,799.4 L486.5,799.0 L491.3,796.5 L496.6,794.4 L502.3,792.4 L508.0,791.4 L514.6,791.2 L518.7,790.5 M494.3,800.2 L496.3,798.6 L499.0,797.0 L502.6,797.5 L505.6,799.8 L510.1,805.1 L511.6,808.6 L510.0,810.2 L506.6,810.8 L502.1,811.1 L498.3,810.9 L495.3,810.0 L492.3,808.6 L492.2,805.4 L493.2,803.1 Z M474.8,813.5 L477.1,812.0 L478.7,811.6 L481.8,810.3 L484.2,811.5 L486.4,812.6 L488.4,812.9 M529.8,808.7 L531.7,806.2 L535.6,803.1 L539.1,800.1 L542.5,799.2 L546.2,799.0 L550.6,798.4 L554.2,799.7 L557.2,801.2 L560.3,801.7 M540.3,812.9 L543.9,811.7 L548.3,809.5 L551.5,808.1 L555.5,807.1 L557.6,807.2 L559.6,806.9 M549.8,720.9 L551.1,720.5 L552.1,719.2 L553.0,718.6 L554.7,719.5 L556.7,720.4 L557.5,721.4 L557.0,722.2 L556.6,723.3 L556.1,724.1 L554.4,724.3 L553.5,724.5 L551.8,723.8 L551.4,723.6 L550.3,722.2 Z M549.0,736.1 L549.6,734.1 L551.5,732.2 L553.1,729.9 L556.2,729.0 L558.1,728.9 L560.4,728.2 M543.5,742.9 L545.6,742.3 L547.8,740.4 L550.3,739.3 L553.6,738.8 L557.8,738.7 L560.4,737.9 M567.2,813.9 L566.5,808.4 L565.7,799.6 L565.7,791.4 L566.9,786.4 L568.5,781.3 L569.7,776.2 L569.5,770.5 L568.1,765.6 L568.6,759.5 L570.9,754.1 L573.3,748.8 L576.4,744.3 L578.9,739.7 L580.2,735.3 L582.3,732.8 L586.4,730.6 L591.0,729.4 L593.8,729.5 L595.6,731.9 L597.2,734.6 L598.7,737.3 L600.8,739.8 L603.5,742.5 L606.8,743.6 L610.2,745.3 L614.9,747.4 L619.9,748.5 L624.1,750.6 L628.1,752.9 L631.8,754.7 L636.7,757.7 L640.7,760.6 L645.4,762.9 L649.6,766.7 L655.1,770.3 L657.4,774.3 L657.1,777.8 L655.5,780.4 L653.0,783.6 L651.1,786.9 L650.1,790.7 L648.5,794.9 L647.3,801.7 L646.0,808.9 L645.2,814.0 M571.2,814.4 L570.4,808.4 L569.4,799.5 L569.7,792.2 L570.9,786.0 L573.8,781.2 L575.0,775.7 L574.1,771.2 L573.0,766.5 L573.0,761.8 L575.3,756.8 L578.9,751.3 L581.6,746.6 L583.3,743.2 L584.4,740.7 L586.2,739.0 L587.7,739.1 L590.2,739.9 L592.3,740.3 L594.6,741.8 L596.2,743.3 L598.5,745.7 L602.3,747.3 L605.8,749.0 L610.1,750.0 L614.1,752.0 L618.6,753.1 L622.5,755.0 L626.5,756.8 L631.3,759.1 L635.2,761.8 L640.4,765.1 L646.0,768.4 L649.6,772.7 L650.0,776.8 L649.0,780.0 L646.9,784.1 L645.2,787.1 L643.8,791.2 L641.4,794.9 L640.9,801.3 L640.5,809.4 L639.8,814.6 M576.2,813.8 L577.2,808.0 L577.1,799.3 L577.8,791.5 L578.2,785.8 L579.1,780.9 L579.4,775.9 L580.1,770.6 L580.0,765.2 L581.4,760.0 L583.6,755.5 L586.4,752.6 L589.3,749.9 L590.2,751.3 L589.3,753.2 L590.5,755.2 L594.0,756.6 L597.7,758.5 L601.6,760.0 L605.9,762.0 L610.0,763.3 L614.3,764.5 L619.0,765.9 L624.3,767.5 L629.4,769.1 L634.6,771.7 L639.5,773.0 L643.8,775.9 L644.7,779.6 L643.2,784.8 L641.7,789.2 L640.8,792.1 L638.6,796.4 L636.7,800.2 L636.5,805.2 L635.9,810.0 L636.0,813.9 M581.4,814.5 L581.5,808.3 L582.3,799.7 L582.3,792.3 L582.1,787.3 L581.3,783.6 L581.0,779.1 L581.6,773.3 L583.2,767.5 L586.1,763.0 L589.6,763.2 L593.5,764.0 L597.3,766.5 L601.3,767.3 L605.9,769.4 L610.0,771.4 L614.4,772.2 L620.0,774.0 L623.9,775.5 L629.8,777.9 L633.8,779.3 L637.5,782.5 L637.3,785.5 L635.5,790.6 L633.4,795.0 L632.3,802.2 L631.1,809.5 L631.0,814.5 M585.5,814.5 L587.1,810.5 L588.2,805.2 L589.4,799.5 L588.3,794.8 L585.5,789.7 L584.3,785.6 L584.1,781.9 L584.4,778.1 L586.4,775.6 L588.8,775.4 L593.8,776.1 L598.7,777.0 L603.9,778.4 L608.8,779.7 L613.4,781.0 L617.8,782.1 L622.5,783.3 L626.0,785.8 L626.2,788.9 L625.8,793.8 L624.8,797.9 L623.0,803.6 L622.2,810.3 L621.3,814.6 M590.8,814.3 L591.7,810.0 L592.1,803.8 L592.3,798.5 L591.8,793.9 L590.6,790.9 L590.7,788.8 L592.4,787.7 L595.4,787.9 L599.2,788.3 L601.9,790.1 L606.3,791.5 L610.0,793.4 L612.4,795.0 L615.3,798.0 L616.1,799.9 L616.3,802.0 L616.1,805.6 L614.5,807.6 L613.9,810.7 L612.4,812.6 L611.3,814.6 M569.0,814.6 L567.8,808.3 L568.0,799.9 L567.5,791.5 L568.5,786.3 L570.6,781.2 L572.5,775.9 L572.3,771.2 L570.9,765.4 L570.8,760.6 L572.6,755.9 L576.1,749.8 L578.5,745.4 L580.8,741.4 L582.3,738.6 L584.0,736.2 L587.0,735.2 L590.8,734.4 L593.2,734.8 L595.0,736.9 L596.8,739.0 L598.3,741.2 L601.6,743.2 L604.5,745.5 L608.7,747.2 L612.1,748.8 L616.5,750.5 L620.8,751.7 L625.3,754.2 L629.2,755.6 L633.5,758.0 L638.5,761.3 L643.8,764.7 L647.5,767.8 L650.3,770.6 L651.5,772.5 L652.0,774.8 L652.1,777.4 L651.0,780.2 L649.5,784.3 L648.2,787.4 L646.6,790.7 L644.8,794.8 L643.9,801.8 L643.3,808.5 L642.9,814.2 M623.9,713.3 L622.1,714.6 L619.6,715.0 L616.1,715.8 L612.4,716.1 L608.8,716.7 L605.3,717.1 L603.5,717.3 L601.8,718.5 L600.1,720.0 L596.9,721.3 L591.8,722.3 L588.0,723.4 L583.7,722.2 L581.0,721.3 L578.3,719.6 L576.7,717.8 L576.2,715.4 L574.4,713.3 L573.1,712.9 L570.6,711.7 L568.1,710.1 L566.3,708.7 L564.9,705.9 L564.2,703.7 M623.4,714.3 L621.6,714.8 L619.7,717.2 L617.1,718.8 L615.2,721.1 L612.0,723.8 L609.9,726.3 L607.5,728.4 L605.3,729.6 L602.3,731.5 L600.2,732.5 L598.6,734.3 L598.2,735.6 L598.1,738.8 L599.6,740.8 L600.5,743.4 M598.6,679.7 L600.9,681.1 L603.3,682.7 L606.6,684.4 L609.7,686.4 L613.1,687.8 L616.6,689.2 L619.2,692.0 L622.8,694.1 L626.2,695.2 L630.3,695.8 L634.1,695.6 L638.3,696.4 L642.5,696.6 L646.6,697.1 L650.1,697.9 L652.7,696.7 L654.1,694.0 L656.5,693.0 L658.3,691.6 L660.3,691.3 L662.6,691.5 L664.3,692.5 L666.1,695.3 L667.9,697.4 L668.7,700.2 L669.8,703.3 L670.7,705.4 L672.1,708.0 L674.6,709.2 L676.6,710.1 L681.8,709.8 L686.7,709.5 L690.1,708.8 M635.4,680.1 L635.7,682.3 L636.6,684.0 L638.9,686.5 L641.7,687.5 L645.3,687.3 L647.8,687.7 L651.6,687.7 L654.5,688.2 L657.5,688.0 L662.6,688.8 L666.8,689.3 L670.4,690.1 L673.2,688.8 L674.1,687.4 L675.4,686.7 L676.8,687.3 L678.4,688.1 L678.7,689.9 L677.5,691.7 L674.9,693.5 L674.1,694.4 M646.2,733.2 L647.2,731.9 L650.4,729.5 L653.6,728.1 L656.1,727.0 L659.8,727.3 L662.5,726.1 L662.5,723.5 L661.6,721.1 L661.1,718.3 L663.3,717.5 L667.0,717.7 L671.1,717.8 L674.0,718.0 L676.1,719.6 L678.3,721.5 L680.5,724.6 L681.1,727.2 L680.0,729.1 L677.8,728.9 L674.8,727.9 L672.4,728.0 L671.4,729.6 L671.2,733.0 L670.9,735.9 L670.5,739.3 L669.8,743.2 L669.2,745.2 L666.3,745.9 L662.1,744.3 L657.9,742.0 L654.6,741.1 L652.6,738.8 L649.4,737.4 L647.7,736.3 L645.9,735.3 Z M644.9,763.5 L646.6,763.2 L648.8,764.4 L651.6,765.0 L653.2,766.4 L656.1,768.8 L658.3,769.1 L659.3,770.1 L660.9,769.5 L662.4,767.4 L665.6,765.9 L668.1,763.7 L670.7,762.0 L673.3,759.8 L674.6,757.6 L676.6,755.0 L680.2,752.9 L682.4,751.2 L684.8,748.9 L687.3,745.0 L689.3,741.3 L690.2,739.0 M651.1,785.1 L653.5,784.6 L655.3,784.0 L658.3,784.3 L660.7,785.3 L663.6,788.5 L666.1,790.5 L667.5,791.8 L667.8,793.7 L667.2,795.4 L665.4,798.0 L663.5,800.8 L661.5,803.0 L659.0,802.9 L657.8,801.6 L655.8,799.5 L655.2,797.1 L653.7,794.9 L653.4,792.3 L651.8,789.0 L651.6,787.3 Z M649.0,807.4 L649.9,807.1 L651.7,807.5 L652.8,806.7 L654.4,807.3 L654.9,808.6 L656.0,809.3 L654.4,810.2 L652.6,810.8 L651.7,810.9 L650.6,810.0 L649.0,809.1 Z M530.0,741.2 L531.5,739.6 L534.8,737.2 L537.6,736.1 L542.2,735.4 L546.4,735.7 L550.9,735.9 L554.4,737.0 L558.6,738.9 L562.5,739.2 L564.8,737.9 L567.8,736.6 L569.7,734.5 L572.5,732.0 L574.1,729.6 L574.9,728.3 M544.1,748.6 L546.4,751.4 L547.9,756.1 L551.0,760.1 L554.8,762.8 L558.0,764.3 L561.5,766.2 L563.7,767.3 L565.9,767.4 L567.1,767.8 M557.6,747.0 L558.0,749.4 L558.7,752.8 L559.9,754.9 L562.3,757.0 L565.0,757.2 L566.6,758.4 M530.3,775.5 L531.8,774.9 L533.2,774.3 L534.7,774.8 L536.9,775.3 L538.5,776.2 L539.2,777.0 L540.9,779.7 L541.4,781.7 L541.0,784.3 L540.2,785.0 L538.2,786.5 L536.0,787.6 L534.7,786.8 L531.5,785.2 L529.6,784.1 L528.8,782.9 L527.6,780.9 L526.3,779.5 L527.7,778.8 L528.6,776.8 Z M530.4,767.5 L532.8,766.7 L536.9,767.8 L539.9,769.8 L542.6,772.5 L545.5,775.9 L548.0,778.7 L550.1,782.7 L551.6,786.8 L552.9,789.9 L551.1,792.3 L549.3,794.3 L546.2,795.1 L543.2,794.4 L539.4,793.4 L536.6,792.3 L533.8,791.9 L532.3,791.6 L529.9,790.4 L527.0,786.9 L524.6,782.8 L523.2,779.3 L524.9,775.0 L526.9,770.9 Z M557.5,776.0 L558.7,777.5 L561.3,779.5 L563.2,782.7 L565.1,785.7 L565.6,788.3 L566.8,791.5 L567.5,795.2 L568.5,798.9 L568.4,801.6 L567.0,804.4 L564.5,806.0 L562.4,808.2 L558.6,807.7 L555.3,807.5 L552.0,805.8 L549.5,804.1 L546.6,802.4 L544.1,801.0 L542.0,802.2 L540.0,804.5 L537.9,806.1 L534.7,807.4 L532.4,807.6 L529.5,807.6 M530.4,732.7 L530.9,729.6 L533.4,724.1 L534.8,720.0 L535.8,716.2 L537.8,713.3 L539.7,710.5 L542.3,708.0 L545.3,707.5 L549.5,706.0 L552.2,704.0 L555.7,701.5 L558.5,699.5 L560.9,696.6 L561.5,693.3 L561.7,689.7 L561.4,685.8 L559.7,682.1 L559.1,679.7 M532.8,734.1 L535.0,730.5 L537.2,725.1 L539.8,719.7 L541.6,716.8 L543.4,714.9 L545.6,713.4 L549.4,712.1 L552.0,710.3 L555.7,708.8 L557.9,706.1 L561.1,703.9 L563.1,701.1 L565.7,697.3 L568.3,693.2 L570.4,689.5 L570.8,686.0 L571.7,682.9 L571.8,680.0 M547.8,720.1 L549.6,719.5 L552.0,718.0 L554.0,718.3 L555.2,719.8 L556.4,721.7 L557.2,723.1 L556.8,724.8 L555.8,726.3 L554.3,726.1 L552.8,726.0 L551.7,725.0 L549.8,723.5 L548.7,722.7 L547.5,720.8 Z M564.4,703.5 L565.9,704.2 L568.8,704.6 L571.6,703.9 L573.4,701.4 L575.9,699.3 L577.7,695.8 L579.8,693.7 L582.0,691.5 L583.9,689.2 L587.5,689.2 L591.5,689.7 L594.4,689.5 L594.0,688.3 L592.5,685.4 L591.1,683.0 L588.6,682.2 L587.3,680.8 L585.5,680.2 M566.6,716.9 L568.6,716.2 L571.4,714.0 L573.6,711.7 L572.2,708.6 L571.0,704.1 L569.7,701.1 L571.5,697.8 L575.4,695.5 L578.2,692.4 L580.4,689.7 L581.9,686.8 L583.1,684.8 M588.6,694.4 L589.3,693.9 L589.9,694.4 L591.1,694.4 L591.3,694.4 L592.2,694.7 L592.1,696.1 L592.1,696.1 L591.3,696.9 L590.9,696.7 L589.3,696.5 L588.7,695.1 Z M628.4,560.0 L631.7,561.3 L635.7,562.8 L640.2,564.8 L644.1,566.0 L649.2,566.7 L653.2,566.8 L655.6,568.8 L657.9,571.0 L661.1,572.4 L663.6,575.1 L667.0,576.4 L669.9,578.3 L675.2,581.2 L680.4,583.4 L686.8,584.3 L692.0,583.0 L697.7,580.5 L702.7,577.3 L706.5,574.8 L708.7,572.0 L711.5,569.5 L715.0,566.0 L717.0,562.1 L718.3,560.0 M609.2,574.5 L612.3,574.5 L616.7,575.2 L620.4,575.6 L624.9,577.6 L630.4,580.7 L635.6,582.7 L639.6,584.4 L645.0,585.7 L650.0,587.3 L654.1,588.0 L659.0,589.2 L664.1,590.7 L667.4,591.8 L672.0,594.4 L674.9,597.1 L678.4,599.0 L682.9,600.5 L686.4,601.1 L690.6,602.0 L695.2,601.6 L698.7,600.5 L703.3,599.0 L706.6,597.4 L710.6,595.2 L712.6,592.0 L714.8,587.1 L716.8,584.3 L718.9,582.1 L721.5,581.8 L723.2,580.5 M614.5,583.8 L617.6,585.0 L621.8,585.9 L627.0,587.3 L632.2,588.6 L636.8,590.1 L641.3,592.0 L646.4,593.2 L651.5,595.0 L655.8,596.5 L660.7,599.2 L665.1,600.7 L668.3,603.3 L672.0,605.8 L676.3,607.6 L679.9,609.7 L683.7,610.5 L688.7,611.3 L692.8,610.8 L696.8,610.3 L701.0,609.6 L705.6,608.4 L709.1,606.5 L712.2,603.9 L714.9,601.5 L718.0,599.1 L719.2,596.3 L721.2,593.7 L722.9,590.1 L724.4,586.8 L724.3,583.5 M616.2,592.1 L619.4,592.5 L623.5,593.2 L629.1,594.5 L633.0,595.6 L638.7,598.0 L642.8,600.2 L648.4,602.4 L652.9,604.5 L657.1,606.3 L662.7,608.3 L666.8,611.0 L672.1,612.3 L676.3,615.1 L682.1,617.5 L686.7,618.7 L690.8,619.7 L694.7,619.9 L699.1,619.5 L703.6,619.2 L708.3,617.9 L711.5,616.3 L715.5,614.5 L718.6,611.6 L721.7,609.2 L724.5,606.7 L726.6,603.4 L727.7,600.1 L729.0,595.9 L729.0,591.7 L729.7,588.5 M617.2,599.9 L621.5,600.3 L626.4,602.3 L631.7,603.4 L636.6,604.2 L641.5,606.5 L646.6,607.5 L651.4,610.0 L655.9,612.2 L660.8,614.0 L665.7,616.7 L670.1,620.3 L675.2,622.4 L680.1,623.9 L684.6,624.9 L689.0,625.4 L693.9,626.4 L699.6,626.2 L703.6,625.9 L708.2,624.7 L712.9,622.7 L716.9,620.5 L720.6,618.9 L723.7,617.1 L726.0,614.3 L728.7,611.1 L731.5,608.5 L732.7,604.8 L733.5,599.8 L732.8,595.6 L732.7,592.0 M620.5,607.7 L624.7,608.6 L630.3,610.3 L635.6,610.9 L640.0,612.2 L644.6,613.9 L649.6,616.4 L654.7,617.3 L659.0,619.3 L663.5,621.1 L668.6,622.9 L672.9,626.5 L676.6,628.7 L681.5,630.4 L686.6,631.8 L690.9,631.4 L696.2,632.0 L701.0,630.7 L705.1,630.7 L709.9,629.5 L714.8,628.2 L718.4,626.7 L722.1,625.2 L725.2,622.8 L728.3,621.1 M627.5,624.4 L628.5,622.6 L630.2,620.9 L632.1,619.3 L634.4,618.3 L637.9,618.6 L641.8,618.1 L645.7,618.2 L648.5,619.0 L652.3,620.4 L656.5,620.8 L660.8,622.3 L664.1,623.9 L666.7,626.8 L668.9,629.1 L671.9,631.6 L675.0,634.8 L679.5,637.5 L682.7,640.4 L686.9,642.0 L691.1,642.9 L695.6,642.9 L700.1,643.0 L704.4,641.5 L708.6,639.9 L713.2,637.8 L717.9,633.8 L721.5,631.8 M629.8,625.1 L630.6,624.1 L632.2,622.2 L633.5,620.9 L636.0,620.2 L638.9,620.1 L642.1,620.1 L645.3,620.6 L649.3,621.2 L652.7,621.4 L655.9,622.5 L659.6,623.8 L663.3,625.7 L666.3,628.0 L668.0,630.7 L670.8,634.0 L674.8,636.4 L679.0,639.7 L682.7,641.9 L687.2,643.4 L691.1,644.5 L696.4,644.9 L700.5,644.2 L705.1,643.9 L709.2,641.7 L714.2,639.0 L718.8,635.7 L722.6,633.9 M631.6,627.6 L632.5,626.4 L633.8,623.8 L634.8,623.5 L637.4,622.5 L639.4,622.1 L641.8,621.8 L645.2,622.2 L648.4,623.3 L652.5,624.2 L655.6,624.9 L659.0,626.4 L662.0,627.9 L665.0,630.0 L667.0,632.9 L670.4,636.1 L673.7,638.3 L678.0,641.8 L682.2,643.9 L686.4,645.0 L691.5,646.5 L695.5,646.9 L701.0,646.4 L705.4,645.3 L710.0,643.3 L715.4,641.2 L719.8,637.8 L723.1,636.2 M628.8,624.6 L629.5,623.4 L630.5,621.1 L633.0,619.8 L635.4,619.0 L637.9,618.9 L641.9,619.4 L645.7,619.7 L649.0,619.6 L653.2,620.9 L656.8,621.4 L660.5,623.2 L663.3,624.8 L665.9,627.3 L668.5,630.3 L671.3,633.1 L675.2,635.9 L679.4,638.4 L683.1,640.8 L687.5,642.9 L691.8,643.8 L695.7,644.5 L700.7,644.1 L704.5,642.9 L709.2,641.2 L714.1,638.2 L718.5,635.4 L722.1,632.9 M726.7,575.5 L725.2,580.1 L724.5,586.4 L724.3,592.4 L724.9,597.0 L726.5,603.0 L727.8,608.1 L730.1,613.3 L732.8,617.3 L735.8,620.7 L739.5,622.1 L743.3,623.7 L747.3,624.0 L751.6,624.7 L756.2,626.3 L760.4,627.5 M732.4,584.2 L732.3,588.2 L731.4,594.0 L730.9,600.0 L732.7,604.8 L734.6,609.7 L737.4,612.7 L740.0,614.6 L743.7,615.2 L747.2,615.9 L751.1,617.1 L756.3,617.2 L760.5,617.3 M738.6,591.7 L738.9,596.0 L739.6,600.3 L740.4,604.8 L742.4,606.5 L745.9,607.5 L748.4,608.1 L752.2,607.7 L757.1,606.5 L760.1,606.2 M669.0,649.6 L671.9,650.7 L675.1,651.7 L680.1,653.0 L684.5,651.9 L690.2,650.4 L696.3,649.6 L701.7,649.7 L706.8,650.0 L711.8,651.1 L716.1,653.4 L719.1,656.4 L721.1,658.9 L721.8,662.7 L719.9,665.9 L717.8,669.2 L716.3,671.7 L714.9,675.3 L712.1,677.8 L707.7,679.4 L703.2,680.0 L699.0,680.1 L694.7,679.3 L690.7,677.0 L686.7,677.1 L682.8,677.7 L679.2,679.3 L676.4,681.2 L674.2,683.6 L672.1,686.2 L670.7,687.5 M648.3,641.5 L649.1,643.4 L650.7,646.6 L653.0,649.6 L655.6,651.5 L660.2,653.2 L664.1,656.0 L667.8,658.4 L671.1,661.4 L675.4,663.5 L679.7,665.8 L684.7,667.6 L689.2,668.4 L694.8,668.1 L699.7,667.1 L703.7,665.6 L707.8,664.7 L712.4,662.7 L715.1,662.3"/></g><path class="ct" d="M776.6,392.0 L775.3,391.6 L775.2,390.2 L776.4,389.8 L777.3,390.3 L777.9,391.4 Z M777.7,447.3 L776.6,445.7 L776.5,443.7 L777.9,443.0 L779.1,444.0 L778.7,445.8 Z M778.9,455.8 L781.4,455.3 L783.1,456.6 L781.8,458.0 L779.6,458.8 L778.0,457.3 Z M771.9,459.8 L771.2,457.5 L771.4,454.9 L772.9,454.2 L773.8,456.4 L773.4,459.3 Z M786.8,451.5 L786.2,450.3 L787.8,449.4 L789.1,450.2 L789.4,451.2 L788.3,451.8 Z M798.0,443.8 L797.5,444.9 L796.5,445.3 L795.7,444.4 L796.1,443.3 L797.2,442.9 Z M750.7,463.7 L752.2,463.0 L753.9,463.7 L753.9,465.0 L752.2,465.4 L751.0,464.7 Z M773.3,464.1 L773.7,465.3 L772.6,466.2 L770.9,465.8 L769.8,464.9 L771.3,464.0 Z M746.6,483.3 L745.7,482.0 L746.3,480.5 L747.0,479.6 L747.6,480.9 L747.3,482.3 Z M769.3,480.5 L768.8,479.7 L768.8,478.8 L769.9,478.9 L770.9,479.3 L770.4,480.1 Z M779.2,481.4 L780.1,482.6 L778.2,483.2 L776.7,482.8 L775.9,481.8 L777.5,481.3 Z M805.6,467.4 L803.8,466.6 L803.3,464.8 L804.1,462.5 L806.1,463.5 L807.4,465.6 Z M812.2,461.9 L812.5,464.0 L811.1,465.5 L809.3,464.6 L809.0,462.3 L810.5,460.9 Z M850.9,451.1 L850.8,452.6 L849.3,452.9 L848.2,452.1 L848.0,450.4 L849.7,450.1 Z M851.0,458.8 L851.5,457.9 L852.0,458.5 L852.2,459.6 L851.7,460.5 L851.2,459.9 Z M844.7,463.6 L845.6,463.5 L846.3,464.1 L846.1,465.0 L845.2,465.0 L844.7,464.5 Z M870.9,470.6 L872.5,470.6 L873.3,471.5 L872.3,472.2 L870.8,472.2 L870.1,471.3 Z M908.4,438.8 L908.0,437.9 L908.8,436.9 L909.9,437.5 L910.5,438.4 L909.6,439.3 Z M928.1,436.1 L927.8,435.0 L928.0,434.2 L928.7,433.9 L929.2,434.7 L928.8,435.6 Z M899.8,532.2 L899.4,531.1 L899.7,529.9 L900.6,530.2 L901.1,530.9 L900.8,532.0 Z M901.6,534.2 L901.8,535.3 L901.1,536.3 L900.0,535.8 L899.4,534.5 L900.5,533.5 Z M931.7,562.9 L930.3,562.6 L929.6,560.9 L930.6,559.6 L931.7,560.0 L932.3,561.3 Z M979.2,596.9 L980.1,598.0 L979.8,599.6 L978.6,600.0 L977.4,598.9 L978.2,597.4 Z M974.4,395.7 L973.7,396.5 L972.4,396.3 L971.6,395.7 L972.3,394.9 L973.5,395.2 Z M978.2,180.9 L979.2,181.4 L979.1,182.2 L978.2,182.6 L977.3,182.2 L977.4,181.5 Z M954.7,190.8 L955.6,190.6 L956.6,190.9 L956.5,192.3 L955.6,193.1 L954.6,192.3 Z M956.1,230.4 L956.6,231.4 L955.4,231.9 L954.4,231.5 L954.1,230.4 L955.2,229.7 Z M956.2,244.1 L956.4,243.2 L957.5,242.8 L958.9,243.1 L958.7,244.0 L957.5,244.6 Z M955.8,247.0 L955.4,245.8 L956.0,245.1 L956.9,244.9 L957.3,246.2 L956.7,247.3 Z M945.4,259.5 L946.9,263.3 L945.3,266.3 L943.6,267.0 L942.5,263.8 L943.2,260.0 Z M947.8,258.9 L948.3,257.7 L949.1,257.2 L950.0,257.7 L950.0,258.8 L949.1,259.2 Z M945.6,274.2 L945.1,276.0 L942.4,276.2 L940.7,274.8 L941.6,273.1 L944.4,272.5 Z M954.4,378.5 L954.9,378.1 L955.4,378.6 L955.5,379.4 L954.9,379.9 L954.3,379.3 Z M612.6,373.0 L610.9,374.9 L608.9,373.4 L609.2,370.0 L610.8,367.8 L612.8,369.7 Z M629.5,369.3 L629.5,367.0 L631.4,366.3 L633.0,367.4 L632.7,369.6 L631.1,370.3 Z M639.7,366.8 L640.6,365.7 L642.3,366.0 L643.2,367.4 L641.7,368.7 L640.0,368.0 Z M648.2,364.5 L648.6,365.7 L647.1,366.3 L645.2,366.1 L645.0,364.6 L646.6,363.6 Z M653.1,362.4 L653.9,363.2 L653.4,363.9 L652.5,364.3 L652.0,363.6 L652.2,362.9 Z M659.2,363.2 L659.8,364.1 L660.0,365.9 L659.0,366.1 L658.4,365.1 L658.2,363.3 Z M627.1,389.6 L624.3,390.3 L621.9,388.8 L623.0,386.9 L625.7,386.2 L627.0,387.8 Z M629.7,385.5 L631.0,387.1 L631.3,389.0 L629.2,390.1 L628.1,388.3 L628.0,386.6 Z M637.4,393.3 L638.3,392.9 L639.2,393.2 L639.6,393.9 L638.6,394.5 L637.5,394.1 Z M638.6,399.3 L638.2,398.1 L639.0,397.4 L640.1,397.5 L640.7,398.7 L639.6,399.6 Z M655.2,378.8 L655.8,379.3 L655.8,380.4 L655.2,380.9 L654.7,380.4 L654.6,379.4 Z M697.7,401.4 L698.5,404.2 L696.8,406.5 L695.0,404.7 L694.8,401.8 L696.2,399.6 Z M712.7,436.4 L711.3,436.4 L711.0,434.7 L711.7,433.4 L713.1,433.3 L713.9,435.2 Z M714.1,437.6 L712.7,436.8 L713.4,435.6 L714.9,435.4 L715.8,436.2 L715.3,437.2 Z M732.1,448.2 L732.6,446.2 L734.5,445.9 L736.1,447.5 L734.8,449.4 L732.8,450.6 Z M751.5,464.2 L751.8,463.1 L753.1,463.0 L753.8,464.0 L753.3,464.9 L752.1,465.2 Z M684.8,412.7 L685.2,413.5 L684.6,414.2 L683.9,414.0 L683.7,413.3 L684.0,412.5 Z M719.7,442.7 L720.7,442.9 L721.1,443.4 L720.6,443.9 L719.7,443.8 L719.1,443.4 Z M736.0,472.3 L736.7,472.8 L735.8,473.2 L734.9,473.2 L734.4,472.6 L735.2,472.2 Z M707.5,392.3 L704.8,393.4 L701.9,392.3 L701.9,389.8 L705.1,389.4 L707.8,390.2 Z M707.6,385.8 L707.5,383.5 L709.9,382.1 L711.6,384.1 L711.4,386.5 L709.3,386.9 Z M714.5,391.4 L711.7,390.5 L712.2,387.7 L715.3,387.6 L718.2,388.5 L717.0,390.9 Z M700.8,387.1 L702.6,387.9 L702.3,389.5 L700.2,390.3 L698.8,389.0 L698.7,387.4 Z M562.6,437.3 L562.2,438.0 L561.3,438.3 L560.7,437.7 L560.8,436.9 L561.9,436.6 Z M561.4,442.6 L562.3,441.6 L563.1,442.5 L563.6,444.1 L562.5,445.0 L561.7,444.1 Z M526.7,513.5 L526.7,514.8 L525.9,515.3 L525.3,514.5 L525.3,513.2 L526.1,512.8 Z M438.2,757.2 L437.5,756.5 L437.8,755.2 L438.7,755.1 L439.3,756.1 L438.9,757.2 Z M420.7,775.8 L420.2,775.0 L420.1,774.1 L420.9,773.9 L421.7,774.2 L421.4,775.2 Z M780.1,391.7 L779.1,390.0 L780.2,388.5 L782.0,388.1 L782.4,390.0 L781.8,391.5 Z M608.4,393.0 L607.4,393.7 L606.8,392.5 L606.9,391.2 L607.6,390.5 L608.4,391.3 Z M606.5,382.2 L606.9,382.9 L606.6,383.7 L605.6,383.7 L604.8,383.1 L605.3,382.3 Z M587.3,409.2 L586.6,408.6 L586.1,407.7 L586.7,406.8 L587.6,407.0 L587.7,408.2 Z"/>
<line class="gl" x1="62.3" y1="207.5" x2="992.5" y2="188.4"/>
<line class="gl" x1="62.3" y1="295.5" x2="992.5" y2="276.4"/>
<line class="gl" x1="62.3" y1="383.5" x2="992.5" y2="364.4"/>
<line class="gl" x1="62.3" y1="471.5" x2="992.5" y2="452.4"/>
<line class="gl" x1="62.3" y1="559.5" x2="992.5" y2="540.4"/>
<line class="gl" x1="62.3" y1="647.5" x2="992.5" y2="628.4"/>
<line class="gl" x1="62.3" y1="735.5" x2="992.5" y2="716.4"/>
<line class="gl" x1="62.3" y1="823.5" x2="992.5" y2="804.4"/>
<line class="gl" x1="75.9" y1="824.4" x2="62.1" y2="145.3"/>
<line class="gl" x1="259.1" y1="824.4" x2="245.3" y2="145.3"/>
<line class="gl" x1="442.3" y1="824.4" x2="428.5" y2="145.3"/>
<line class="gl" x1="625.5" y1="824.4" x2="611.7" y2="145.3"/>
<line class="gl" x1="808.7" y1="824.4" x2="794.9" y2="145.3"/>
<line class="gl" x1="991.9" y1="824.4" x2="978.1" y2="145.3"/>
<path class="coast" d="M412.8,824.6 L418.9,805.1 L417.9,784.3 L428.8,769.4 L494.3,722.0 L511.9,702.0 L518.0,693.2 L517.9,689.7 L515.8,678.0 L523.3,666.4 L520.8,659.8 L524.1,655.6 L518.3,653.1 L520.8,644.8 L519.9,635.1 L534.1,632.3 L536.6,628.1 L529.9,619.8 L526.6,609.9 L534.1,602.4 L538.2,591.6 L536.6,579.9 L529.9,574.9 L517.4,569.9 L514.6,564.9 L514.9,556.6 L519.1,553.3 L529.1,552.0 L535.8,539.7 L534.9,523.1 L527.4,509.8 L524.9,498.1 L537.4,492.3 L538.3,489.8 L530.8,481.5 L535.8,479.5 L532.4,473.2 L538.3,465.7 L554.9,454.9 L564.0,451.2 L566.5,439.9 L573.2,428.3 L578.2,419.1 L582.0,413.9 L586.0,411.4 L594.0,408.9 L597.0,402.9 L602.0,400.2 L609.0,400.0 L610.2,398.0 L608.0,394.0 L609.0,387.0 L610.0,380.0 L610.5,374.5 L618.0,374.5 L626.0,372.5 L630.0,369.5 L633.0,370.5 L646.0,368.0 L660.0,365.2 L670.0,368.0 L674.0,376.0 L680.0,378.2 L687.2,380.5 L692.0,374.6 L718.4,367.2"/>
<path class="coast2" d="M718.4,367.4 L719.2,374.6 L716.0,377.0 L710.4,376.2 L692.8,391.8 L705.6,405.7 L721.9,390.6 L717.6,385.0 L720.8,383.7 L731.2,386.2 L739.5,393.8 L736.7,396.5 L740.4,401.0 L738.3,402.2 L729.6,397.0 L712.0,413.7 L765.5,457.7 L772.7,450.5 L777.5,449.7 L787.1,439.3 L768.7,420.9 L763.1,421.7 L749.5,408.9 L752.7,404.9 L794.3,440.1 L790.3,445.7 L801.5,455.0 L818.7,436.9 L780.7,398.5 L785.5,394.2 L811.1,417.7 L819.3,423.2 L856.8,421.7 L866.1,417.6 L896.7,382.7 L932.6,299.1 L938.2,194.6 L929.3,144.5"/>
<path d="M718.0,366.0 L743.4,358.2 L744.3,361.2 L718.6,368.4 Z" fill="#000"/>
</g>
<rect x="62.3" y="145.3" width="930.2" height="679.0999999999999" fill="none" stroke="#000" stroke-width="1.1"/>
<g opacity="0.996"><circle cx="581.5" cy="418.4" r="3.3" fill="#000" stroke="#fff" stroke-opacity="0.35" stroke-width="0.6"/>
<circle cx="626.3" cy="450.4" r="3.3" fill="#000" stroke="#fff" stroke-opacity="0.35" stroke-width="0.6"/>
<circle cx="577.8" cy="541.0" r="3.3" fill="#000" stroke="#fff" stroke-opacity="0.35" stroke-width="0.6"/>
<circle cx="524.4" cy="563.4" r="3.3" fill="#000" stroke="#fff" stroke-opacity="0.35" stroke-width="0.6"/>
<circle cx="806.2" cy="591.2" r="3.3" fill="#000" stroke="#fff" stroke-opacity="0.35" stroke-width="0.6"/>
<circle cx="643.4" cy="635.7" r="3.3" fill="#000" stroke="#fff" stroke-opacity="0.35" stroke-width="0.6"/>
<circle cx="665.2" cy="643.8" r="3.3" fill="#000" stroke="#fff" stroke-opacity="0.35" stroke-width="0.6"/>
<circle cx="681.6" cy="774.2" r="3.3" fill="#000" stroke="#fff" stroke-opacity="0.35" stroke-width="0.6"/>
<text class="pl" x="589.0" y="418.1" textLength="78.4" lengthAdjust="spacingAndGlyphs" >SHL: -28.1 m</text>
<text class="pl" x="633.7" y="450.4" textLength="78.9" lengthAdjust="spacingAndGlyphs" >SHT: -19.4 m</text>
<text class="pl" x="584.3" y="541.0" textLength="81.5" lengthAdjust="spacingAndGlyphs" >LHT: 152.1 m</text>
<text class="pl" x="531.5" y="563.0" textLength="73.8" lengthAdjust="spacingAndGlyphs" >LHL: 81.3 m</text>
<text class="pl" x="813.3" y="591.2" textLength="83.7" lengthAdjust="spacingAndGlyphs" >BTO: 309.0 m</text>
<text class="pl" x="650.5" y="635.7" textLength="83.5" lengthAdjust="spacingAndGlyphs" >GUT: 225.3 m</text>
<text class="pl" x="672.1" y="664.5" textLength="84.2" lengthAdjust="spacingAndGlyphs" >TMT: 209.0 m</text>
<text class="pl" x="688.5" y="773.9" textLength="84.4" lengthAdjust="spacingAndGlyphs" >OHT: 259.6 m</text><text class="yl" x="11.5" y="211.8" textLength="42.8" lengthAdjust="spacingAndGlyphs" >33.86°S</text>
<line x1="58.8" y1="207.5" x2="62.3" y2="207.5" stroke="#000" stroke-width="0"/>
<text class="yl" x="11.5" y="299.9" textLength="42.8" lengthAdjust="spacingAndGlyphs" >33.88°S</text>
<line x1="58.8" y1="295.6" x2="62.3" y2="295.6" stroke="#000" stroke-width="0"/>
<text class="yl" x="18.6" y="388.0" textLength="35.7" lengthAdjust="spacingAndGlyphs" >33.9°S</text>
<line x1="58.8" y1="383.7" x2="62.3" y2="383.7" stroke="#000" stroke-width="0"/>
<text class="yl" x="11.5" y="476.1" textLength="42.8" lengthAdjust="spacingAndGlyphs" >33.92°S</text>
<line x1="58.8" y1="471.8" x2="62.3" y2="471.8" stroke="#000" stroke-width="0"/>
<text class="yl" x="11.5" y="564.2" textLength="42.8" lengthAdjust="spacingAndGlyphs" >33.94°S</text>
<line x1="58.8" y1="559.9" x2="62.3" y2="559.9" stroke="#000" stroke-width="0"/>
<text class="yl" x="11.5" y="652.3" textLength="42.8" lengthAdjust="spacingAndGlyphs" >33.96°S</text>
<line x1="58.8" y1="648.0" x2="62.3" y2="648.0" stroke="#000" stroke-width="0"/>
<text class="yl" x="11.5" y="740.4" textLength="42.8" lengthAdjust="spacingAndGlyphs" >33.98°S</text>
<line x1="58.8" y1="736.1" x2="62.3" y2="736.1" stroke="#000" stroke-width="0"/>
<text class="xl" transform="translate(79.4,876.5) rotate(-90)" x="0" y="0" textLength="43.2" lengthAdjust="spacingAndGlyphs">18.25°E</text>
<text class="xl" transform="translate(262.6,869.3) rotate(-90)" x="0" y="0" textLength="36.0" lengthAdjust="spacingAndGlyphs">18.3°E</text>
<text class="xl" transform="translate(445.8,876.5) rotate(-90)" x="0" y="0" textLength="43.2" lengthAdjust="spacingAndGlyphs">18.35°E</text>
<text class="xl" transform="translate(629.0,869.3) rotate(-90)" x="0" y="0" textLength="36.0" lengthAdjust="spacingAndGlyphs">18.4°E</text>
<text class="xl" transform="translate(812.2,876.5) rotate(-90)" x="0" y="0" textLength="43.2" lengthAdjust="spacingAndGlyphs">18.45°E</text><g shape-rendering="crispEdges">
<defs><pattern id="d1" width="2" height="2" patternUnits="userSpaceOnUse"><rect width="2" height="2" fill="#0014E6"/><rect width="1" height="1" fill="#0A5AEB"/><rect x="1" y="1" width="1" height="1" fill="#0A5AEB"/></pattern><pattern id="d4" width="2" height="2" patternUnits="userSpaceOnUse"><rect width="2" height="2" fill="#0A87EB"/><rect width="1" height="1" fill="#08C8E8"/><rect x="1" y="1" width="1" height="1" fill="#08C8E8"/></pattern><pattern id="d5" width="2" height="2" patternUnits="userSpaceOnUse"><rect width="2" height="2" fill="#05CDE6"/><rect width="1" height="1" fill="#08B4EB"/></pattern></defs>
<rect x="155" y="879.2" width="25" height="30.0" fill="#0014E6"/>
<rect x="180" y="879.2" width="25" height="30.0" fill="url(#d1)"/>
<rect x="205" y="879.2" width="25" height="30.0" fill="#0A5AEB"/>
<rect x="230" y="879.2" width="24" height="30.0" fill="#0A87EB"/>
<rect x="254" y="879.2" width="25" height="30.0" fill="url(#d4)"/>
<rect x="279" y="879.2" width="25" height="30.0" fill="url(#d5)"/>
<rect x="304" y="879.2" width="25" height="30.0" fill="#05DCD2"/>
<rect x="329" y="879.2" width="25" height="30.0" fill="#05D2AA"/>
<rect x="354" y="879.2" width="24" height="30.0" fill="#05C87D"/>
<rect x="378" y="879.2" width="25" height="30.0" fill="#05B955"/>
<rect x="403" y="879.2" width="25" height="30.0" fill="#05AF32"/>
<rect x="428" y="879.2" width="25" height="30.0" fill="#14AF14"/>
<rect x="453" y="879.2" width="25" height="30.0" fill="#32B405"/>
<rect x="478" y="879.2" width="24" height="30.0" fill="#5FC105"/>
<rect x="502" y="879.2" width="25" height="30.0" fill="#87CD00"/>
<rect x="527" y="879.2" width="25" height="30.0" fill="#B4DC00"/>
<rect x="552" y="879.2" width="25" height="30.0" fill="#D2E600"/>
<rect x="577" y="879.2" width="25" height="30.0" fill="#E6E100"/>
<rect x="602" y="879.2" width="24" height="30.0" fill="#EBD700"/>
<rect x="626" y="879.2" width="25" height="30.0" fill="#EBC800"/>
<rect x="651" y="879.2" width="25" height="30.0" fill="#EBB400"/>
<rect x="676" y="879.2" width="25" height="30.0" fill="#EBA500"/>
<rect x="701" y="879.2" width="24" height="30.0" fill="#EB9100"/>
<rect x="725" y="879.2" width="25" height="30.0" fill="#EB7800"/>
<rect x="750" y="879.2" width="25" height="30.0" fill="#EB5A00"/>
<rect x="775" y="879.2" width="25" height="30.0" fill="#EB3C00"/>
<rect x="800" y="879.2" width="25" height="30.0" fill="#EB1E00"/>
<rect x="825" y="879.2" width="24" height="30.0" fill="#E60F00"/>
<rect x="849" y="879.2" width="25" height="30.0" fill="#DC0500"/>
<rect x="874" y="879.2" width="25" height="30.0" fill="#B9001E"/>
</g>
<rect x="155.3" y="879.2" width="743.7" height="30.0" fill="none" stroke="#000" stroke-width="1.1"/>
<line x1="155.30" y1="909.2" x2="155.30" y2="914.4000000000001" stroke="#000" stroke-width="1.1"/>
<text class="cb" x="133.1" y="929.8" textLength="44.5" lengthAdjust="spacingAndGlyphs" >−3600</text>
<line x1="180.09" y1="909.2" x2="180.09" y2="912.4000000000001" stroke="#000" stroke-width="0.9"/>
<line x1="204.88" y1="909.2" x2="204.88" y2="914.4000000000001" stroke="#000" stroke-width="1.1"/>
<text class="cb" x="182.6" y="929.8" textLength="44.5" lengthAdjust="spacingAndGlyphs" >−3200</text>
<line x1="229.67" y1="909.2" x2="229.67" y2="912.4000000000001" stroke="#000" stroke-width="0.9"/>
<line x1="254.46" y1="909.2" x2="254.46" y2="914.4000000000001" stroke="#000" stroke-width="1.1"/>
<text class="cb" x="232.2" y="929.8" textLength="44.5" lengthAdjust="spacingAndGlyphs" >−2800</text>
<line x1="279.25" y1="909.2" x2="279.25" y2="912.4000000000001" stroke="#000" stroke-width="0.9"/>
<line x1="304.04" y1="909.2" x2="304.04" y2="914.4000000000001" stroke="#000" stroke-width="1.1"/>
<text class="cb" x="281.8" y="929.8" textLength="44.5" lengthAdjust="spacingAndGlyphs" >−2400</text>
<line x1="328.83" y1="909.2" x2="328.83" y2="912.4000000000001" stroke="#000" stroke-width="0.9"/>
<line x1="353.62" y1="909.2" x2="353.62" y2="914.4000000000001" stroke="#000" stroke-width="1.1"/>
<text class="cb" x="331.4" y="929.8" textLength="44.5" lengthAdjust="spacingAndGlyphs" >−2000</text>
<line x1="378.41" y1="909.2" x2="378.41" y2="912.4000000000001" stroke="#000" stroke-width="0.9"/>
<line x1="403.20" y1="909.2" x2="403.20" y2="914.4000000000001" stroke="#000" stroke-width="1.1"/>
<text class="cb" x="381.0" y="929.8" textLength="44.5" lengthAdjust="spacingAndGlyphs" >−1600</text>
<line x1="427.99" y1="909.2" x2="427.99" y2="912.4000000000001" stroke="#000" stroke-width="0.9"/>
<line x1="452.78" y1="909.2" x2="452.78" y2="914.4000000000001" stroke="#000" stroke-width="1.1"/>
<text class="cb" x="430.5" y="929.8" textLength="44.5" lengthAdjust="spacingAndGlyphs" >−1200</text>
<line x1="477.57" y1="909.2" x2="477.57" y2="912.4000000000001" stroke="#000" stroke-width="0.9"/>
<line x1="502.36" y1="909.2" x2="502.36" y2="914.4000000000001" stroke="#000" stroke-width="1.1"/>
<text class="cb" x="484.3" y="929.8" textLength="36.2" lengthAdjust="spacingAndGlyphs" >−800</text>
<line x1="527.15" y1="909.2" x2="527.15" y2="912.4000000000001" stroke="#000" stroke-width="0.9"/>
<line x1="551.94" y1="909.2" x2="551.94" y2="914.4000000000001" stroke="#000" stroke-width="1.1"/>
<text class="cb" x="533.8" y="929.8" textLength="36.2" lengthAdjust="spacingAndGlyphs" >−400</text>
<line x1="576.73" y1="909.2" x2="576.73" y2="912.4000000000001" stroke="#000" stroke-width="0.9"/>
<line x1="601.52" y1="909.2" x2="601.52" y2="914.4000000000001" stroke="#000" stroke-width="1.1"/>
<text class="cb" x="597.1" y="929.8" textLength="8.9" lengthAdjust="spacingAndGlyphs" >0</text>
<line x1="626.31" y1="909.2" x2="626.31" y2="912.4000000000001" stroke="#000" stroke-width="0.9"/>
<line x1="651.10" y1="909.2" x2="651.10" y2="914.4000000000001" stroke="#000" stroke-width="1.1"/>
<text class="cb" x="638.4" y="929.8" textLength="25.5" lengthAdjust="spacingAndGlyphs" >400</text>
<line x1="675.89" y1="909.2" x2="675.89" y2="912.4000000000001" stroke="#000" stroke-width="0.9"/>
<line x1="700.68" y1="909.2" x2="700.68" y2="914.4000000000001" stroke="#000" stroke-width="1.1"/>
<text class="cb" x="687.9" y="929.8" textLength="25.5" lengthAdjust="spacingAndGlyphs" >800</text>
<line x1="725.47" y1="909.2" x2="725.47" y2="912.4000000000001" stroke="#000" stroke-width="0.9"/>
<line x1="750.26" y1="909.2" x2="750.26" y2="914.4000000000001" stroke="#000" stroke-width="1.1"/>
<text class="cb" x="733.4" y="929.8" textLength="33.8" lengthAdjust="spacingAndGlyphs" >1200</text>
<line x1="775.05" y1="909.2" x2="775.05" y2="912.4000000000001" stroke="#000" stroke-width="0.9"/>
<line x1="799.84" y1="909.2" x2="799.84" y2="914.4000000000001" stroke="#000" stroke-width="1.1"/>
<text class="cb" x="782.9" y="929.8" textLength="33.8" lengthAdjust="spacingAndGlyphs" >1600</text>
<line x1="824.63" y1="909.2" x2="824.63" y2="912.4000000000001" stroke="#000" stroke-width="0.9"/>
<line x1="849.42" y1="909.2" x2="849.42" y2="914.4000000000001" stroke="#000" stroke-width="1.1"/>
<text class="cb" x="832.5" y="929.8" textLength="33.8" lengthAdjust="spacingAndGlyphs" >2000</text>
<line x1="874.21" y1="909.2" x2="874.21" y2="912.4000000000001" stroke="#000" stroke-width="0.9"/>
<line x1="899.00" y1="909.2" x2="899.00" y2="914.4000000000001" stroke="#000" stroke-width="1.1"/>
<text class="cb" x="882.1" y="929.8" textLength="33.8" lengthAdjust="spacingAndGlyphs" >2400</text>
<text class="t" x="484.4" y="949.8" textLength="85.0" lengthAdjust="spacingAndGlyphs" >zsfclcldif [ft]</text></g>
</svg></body></html>
